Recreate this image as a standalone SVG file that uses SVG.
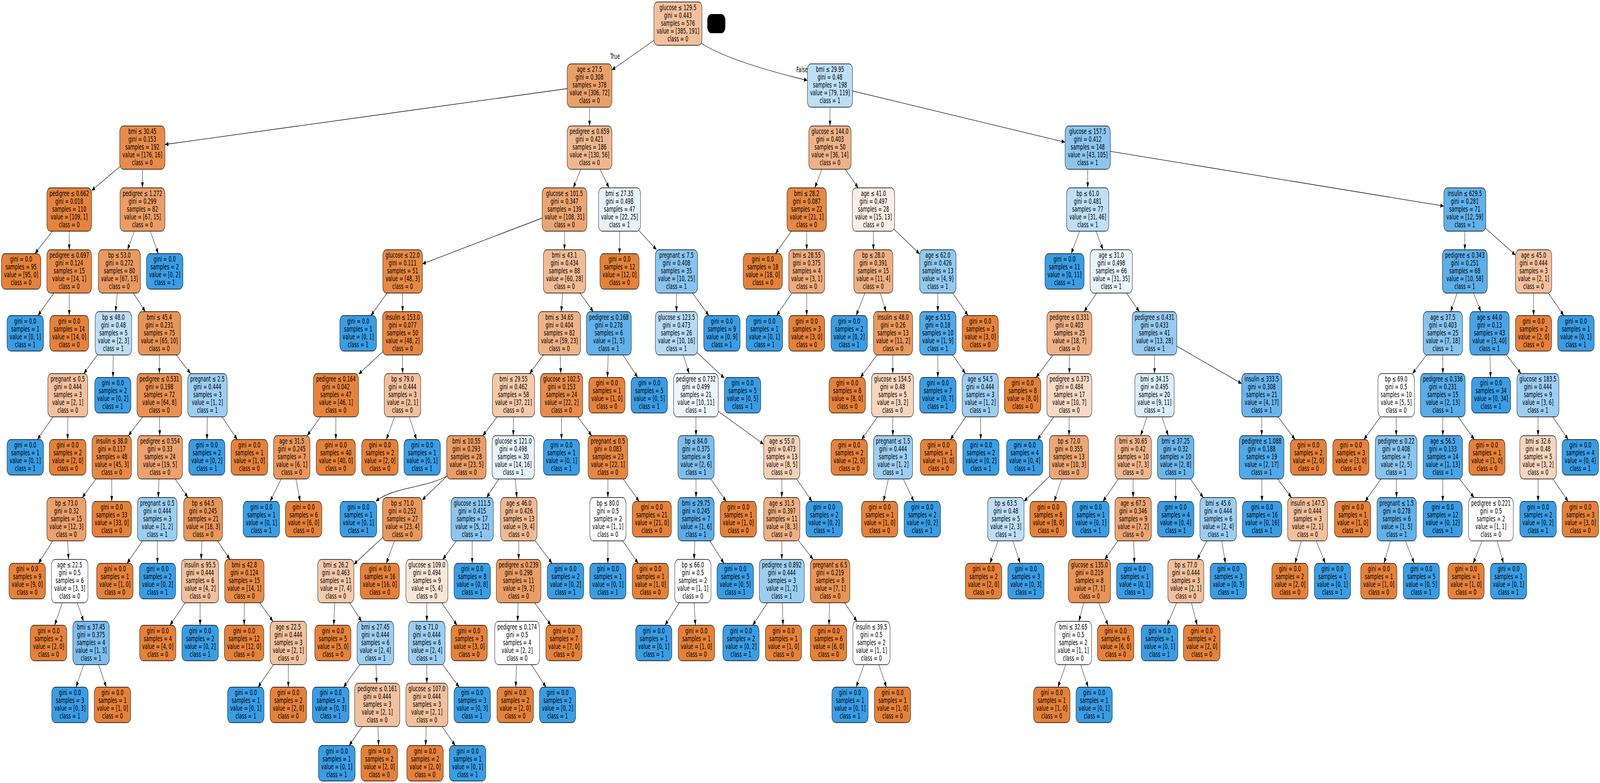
<svg xmlns="http://www.w3.org/2000/svg" width="6587" height="2005" viewBox="0 0 6587 2005" preserveAspectRatio="none">
<style>
svg:root{width:100vw;height:100vh}
.n rect{stroke:#000;stroke-width:1.3;rx:15px;ry:15px}
text{font-family:"DejaVu Sans","Liberation Sans",sans-serif;font-size:18.6px;text-anchor:middle;fill:#000}
.o{fill:#e58139}.b{fill:#399de5}
#edges line,#edges path{stroke:#000;stroke-width:1.3;fill:none;marker-end:url(#ah)}
</style>
<defs>
<marker id="ah" markerUnits="userSpaceOnUse" markerWidth="15" markerHeight="11" refX="14" refY="5.5" orient="auto" viewBox="0 0 15 11"><path d="M0,0 L14,5.5 L0,11 z" fill="#000"/></marker>
</defs>
<rect x="0" y="0" width="6587" height="2005" fill="#fff"/>
<g id="edges">
<line x1="2791" y1="60.5" x2="2519" y2="179"/>
<path d="M2885,110 Q3000,157 3324,206"/>
<line x1="2427" y1="219" x2="679" y2="370"/>
<line x1="2427" y1="219" x2="2427" y2="322.5"/>
<line x1="586" y1="378" x2="377" y2="488"/>
<line x1="586" y1="378" x2="586.5" y2="481"/>
<line x1="285" y1="536.5" x2="143.8" y2="649.5"/>
<line x1="285" y1="536.5" x2="285" y2="639.5"/>
<line x1="285" y1="695" x2="156" y2="808"/>
<line x1="285" y1="695" x2="285" y2="808"/>
<line x1="586.5" y1="536.5" x2="524.8" y2="639.5"/>
<line x1="586.5" y1="536.5" x2="651.7" y2="649.5"/>
<line x1="491.5" y1="695" x2="475.6" y2="798"/>
<line x1="491.5" y1="695" x2="598.4" y2="798"/>
<line x1="467" y1="853.5" x2="344.8" y2="956.5"/>
<line x1="467" y1="853.5" x2="465.2" y2="966.5"/>
<line x1="279" y1="1012" x2="154.1" y2="1125.5"/>
<line x1="279" y1="1012" x2="278.6" y2="1125.5"/>
<line x1="656" y1="853.5" x2="656" y2="956.5"/>
<line x1="656" y1="853.5" x2="784.7" y2="956.5"/>
<line x1="656" y1="1012" x2="528.4" y2="1115.5"/>
<line x1="656" y1="1012" x2="657.6" y2="1115.5"/>
<line x1="460" y1="1171" x2="338.8" y2="1274"/>
<line x1="460" y1="1171" x2="460" y2="1284"/>
<line x1="273.5" y1="1329.5" x2="158.4" y2="1442.5"/>
<line x1="273.5" y1="1329.5" x2="282.3" y2="1432.5"/>
<line x1="287" y1="1488" x2="225" y2="1601"/>
<line x1="287" y1="1488" x2="344.2" y2="1591"/>
<line x1="375" y1="1646.5" x2="313" y2="1759.5"/>
<line x1="375" y1="1646.5" x2="437.7" y2="1759.5"/>
<line x1="658.5" y1="1171" x2="651.4" y2="1274"/>
<line x1="658.5" y1="1171" x2="773.9" y2="1274"/>
<line x1="647.5" y1="1329.5" x2="523.1" y2="1442.5"/>
<line x1="647.5" y1="1329.5" x2="648.2" y2="1442.5"/>
<line x1="836" y1="1329.5" x2="827.9" y2="1432.5"/>
<line x1="836" y1="1329.5" x2="946.5" y2="1432.5"/>
<line x1="823.5" y1="1488" x2="699.4" y2="1601"/>
<line x1="823.5" y1="1488" x2="823.9" y2="1601"/>
<line x1="1006" y1="1488" x2="1005.3" y2="1601"/>
<line x1="1006" y1="1488" x2="1123.6" y2="1591"/>
<line x1="1187" y1="1646.5" x2="1062.2" y2="1759.5"/>
<line x1="1187" y1="1646.5" x2="1187" y2="1759.5"/>
<line x1="854" y1="1012" x2="852.2" y2="1125.5"/>
<line x1="854" y1="1012" x2="977.1" y2="1125.5"/>
<line x1="2427" y1="378" x2="2360.1" y2="481"/>
<line x1="2427" y1="378" x2="2507.3" y2="481"/>
<line x1="2324" y1="536.5" x2="1739" y2="675.6"/>
<line x1="2324" y1="536.5" x2="2324" y2="639.5"/>
<line x1="1657.5" y1="695" x2="1527" y2="808"/>
<line x1="1657.5" y1="695" x2="1657.5" y2="798"/>
<line x1="1657.5" y1="853.5" x2="1476" y2="958.3"/>
<line x1="1657.5" y1="853.5" x2="1657.2" y2="956.5"/>
<line x1="1383" y1="1012" x2="1264.5" y2="1115.5"/>
<line x1="1383" y1="1012" x2="1382.6" y2="1125.5"/>
<line x1="1201" y1="1171" x2="1111.9" y2="1284"/>
<line x1="1201" y1="1171" x2="1235.9" y2="1284"/>
<line x1="1657" y1="1012" x2="1590.6" y2="1125.5"/>
<line x1="1657" y1="1012" x2="1714.8" y2="1125.5"/>
<line x1="2324" y1="695" x2="2310.4" y2="798"/>
<line x1="2324" y1="695" x2="2442.6" y2="798"/>
<line x1="2303" y1="853.5" x2="2180.2" y2="956.5"/>
<line x1="2303" y1="853.5" x2="2308.8" y2="956.5"/>
<line x1="2114" y1="1012" x2="1987.7" y2="1115.5"/>
<line x1="2114" y1="1012" x2="2113.3" y2="1115.5"/>
<path d="M1860,1212 C1760,1252 1620,1245 1547,1284"/>
<line x1="1920" y1="1171" x2="1738" y2="1280.5"/>
<line x1="1656.5" y1="1329.5" x2="1457" y2="1444.9"/>
<line x1="1656.5" y1="1329.5" x2="1590.2" y2="1442.5"/>
<line x1="1382.5" y1="1488" x2="1373.9" y2="1601"/>
<line x1="1382.5" y1="1488" x2="1488.4" y2="1591"/>
<line x1="1545.5" y1="1646.5" x2="1414.3" y2="1759.5"/>
<line x1="1545.5" y1="1646.5" x2="1550.4" y2="1749.5"/>
<line x1="1553" y1="1805" x2="1437.2" y2="1909"/>
<line x1="1553" y1="1805" x2="1558.9" y2="1909"/>
<line x1="2113" y1="1171" x2="2003.2" y2="1274"/>
<line x1="2113" y1="1171" x2="2127.9" y2="1274"/>
<line x1="1944" y1="1329.5" x2="1822.8" y2="1432.5"/>
<line x1="1944" y1="1329.5" x2="1944" y2="1442.5"/>
<line x1="1757.5" y1="1488" x2="1757.2" y2="1591"/>
<line x1="1757.5" y1="1488" x2="1881.6" y2="1601"/>
<line x1="1757" y1="1646.5" x2="1757.3" y2="1749.5"/>
<line x1="1757" y1="1646.5" x2="1890.3" y2="1759.5"/>
<line x1="1757.5" y1="1805" x2="1752.3" y2="1909"/>
<line x1="1757.5" y1="1805" x2="1874.1" y2="1909"/>
<line x1="2136" y1="1329.5" x2="2135.4" y2="1432.5"/>
<line x1="2136" y1="1329.5" x2="2272.9" y2="1442.5"/>
<line x1="2135" y1="1488" x2="2131.1" y2="1591"/>
<line x1="2135" y1="1488" x2="2268" y2="1601"/>
<line x1="2129" y1="1646.5" x2="2123.3" y2="1759.5"/>
<line x1="2129" y1="1646.5" x2="2247.7" y2="1759.5"/>
<line x1="2312" y1="1012" x2="2311.6" y2="1125.5"/>
<line x1="2312" y1="1012" x2="2436" y2="1115.5"/>
<line x1="2502.5" y1="1171" x2="2502.5" y2="1274"/>
<line x1="2502.5" y1="1171" x2="2631.5" y2="1284"/>
<line x1="2502.5" y1="1329.5" x2="2502.5" y2="1442.5"/>
<line x1="2502.5" y1="1329.5" x2="2627.3" y2="1442.5"/>
<line x1="2506.5" y1="853.5" x2="2500.8" y2="966.5"/>
<line x1="2506.5" y1="853.5" x2="2625.2" y2="966.5"/>
<line x1="2550.5" y1="536.5" x2="2550.5" y2="649.5"/>
<line x1="2550.5" y1="536.5" x2="2702.9" y2="639.5"/>
<line x1="2785" y1="695" x2="2785" y2="798"/>
<line x1="2785" y1="695" x2="2918.3" y2="808"/>
<line x1="2785" y1="853.5" x2="2837" y2="956.5"/>
<line x1="2785" y1="853.5" x2="2982" y2="968.3"/>
<line x1="2865" y1="1012" x2="2865.3" y2="1115.5"/>
<line x1="2865" y1="1012" x2="3144" y2="1137.5"/>
<line x1="2865.5" y1="1171" x2="2865.5" y2="1274"/>
<line x1="2865.5" y1="1171" x2="2989.6" y2="1284"/>
<line x1="2865.5" y1="1329.5" x2="2857.1" y2="1432.5"/>
<line x1="2865.5" y1="1329.5" x2="2980.6" y2="1442.5"/>
<line x1="2852.5" y1="1488" x2="2737.7" y2="1601"/>
<line x1="2852.5" y1="1488" x2="2862.8" y2="1601"/>
<line x1="3218.5" y1="1171" x2="3218.5" y2="1274"/>
<line x1="3218.5" y1="1171" x2="3342.9" y2="1284"/>
<line x1="3218.5" y1="1329.5" x2="3218.5" y2="1432.5"/>
<line x1="3218.5" y1="1329.5" x2="3347.8" y2="1432.5"/>
<line x1="3218.5" y1="1488" x2="3098.7" y2="1601"/>
<line x1="3218.5" y1="1488" x2="3223.5" y2="1601"/>
<line x1="3417.5" y1="1488" x2="3412.9" y2="1601"/>
<line x1="3417.5" y1="1488" x2="3528" y2="1591"/>
<line x1="3587.5" y1="1646.5" x2="3524.8" y2="1759.5"/>
<line x1="3587.5" y1="1646.5" x2="3649.5" y2="1759.5"/>
<line x1="3417" y1="219" x2="3417" y2="322.5"/>
<line x1="3417" y1="219" x2="4385" y2="364.1"/>
<line x1="3417" y1="378" x2="3354.6" y2="481"/>
<line x1="3417" y1="378" x2="3533.3" y2="481"/>
<line x1="3321" y1="536.5" x2="3192.3" y2="649.5"/>
<line x1="3321" y1="536.5" x2="3321" y2="639.5"/>
<line x1="3321" y1="695" x2="3196.9" y2="808"/>
<line x1="3321" y1="695" x2="3321" y2="808"/>
<line x1="3596" y1="536.5" x2="3595.7" y2="639.5"/>
<line x1="3596" y1="536.5" x2="3786" y2="650.1"/>
<line x1="3595.5" y1="695" x2="3524.6" y2="808"/>
<line x1="3595.5" y1="695" x2="3648.1" y2="798"/>
<line x1="3676.5" y1="853.5" x2="3542.1" y2="966.5"/>
<line x1="3676.5" y1="853.5" x2="3675.2" y2="956.5"/>
<line x1="3674.5" y1="1012" x2="3547.1" y2="1125.5"/>
<line x1="3674.5" y1="1012" x2="3675.8" y2="1115.5"/>
<line x1="3676.5" y1="1171" x2="3637.3" y2="1284"/>
<line x1="3676.5" y1="1171" x2="3762.4" y2="1284"/>
<line x1="3861" y1="695" x2="3861" y2="798"/>
<line x1="3861" y1="695" x2="3985.4" y2="808"/>
<line x1="3861" y1="853.5" x2="3861" y2="966.5"/>
<line x1="3861" y1="853.5" x2="3974.4" y2="956.5"/>
<line x1="4035.5" y1="1012" x2="3912.7" y2="1125.5"/>
<line x1="4035.5" y1="1012" x2="4037.6" y2="1125.5"/>
<line x1="4478" y1="378" x2="4478" y2="481"/>
<line x1="4478" y1="378" x2="5944" y2="527.7"/>
<line x1="4478" y1="536.5" x2="4409.9" y2="649.5"/>
<line x1="4478" y1="536.5" x2="4541" y2="639.5"/>
<line x1="4575" y1="695" x2="4462.9" y2="798"/>
<line x1="4575" y1="695" x2="4690.7" y2="798"/>
<line x1="4402.5" y1="853.5" x2="4265.3" y2="966.5"/>
<line x1="4402.5" y1="853.5" x2="4402.5" y2="956.5"/>
<line x1="4402.5" y1="1012" x2="4271.2" y2="1125.5"/>
<line x1="4402.5" y1="1012" x2="4401.2" y2="1115.5"/>
<line x1="4400.5" y1="1171" x2="4216" y2="1283.7"/>
<line x1="4400.5" y1="1171" x2="4339.9" y2="1284"/>
<line x1="4141" y1="1329.5" x2="4075.4" y2="1442.5"/>
<line x1="4141" y1="1329.5" x2="4199.8" y2="1442.5"/>
<line x1="4753" y1="853.5" x2="4753" y2="956.5"/>
<line x1="4753" y1="853.5" x2="5112" y2="982.4"/>
<line x1="4753" y1="1012" x2="4695.7" y2="1115.5"/>
<line x1="4753" y1="1012" x2="4809.6" y2="1115.5"/>
<line x1="4665" y1="1171" x2="4540.6" y2="1284"/>
<line x1="4665" y1="1171" x2="4665" y2="1274"/>
<line x1="4665" y1="1329.5" x2="4548" y2="1432.5"/>
<line x1="4665" y1="1329.5" x2="4670" y2="1442.5"/>
<line x1="4485" y1="1488" x2="4441.8" y2="1591"/>
<line x1="4485" y1="1488" x2="4562" y2="1601"/>
<line x1="4418.5" y1="1646.5" x2="4355.4" y2="1759.5"/>
<line x1="4418.5" y1="1646.5" x2="4479.8" y2="1759.5"/>
<line x1="4840" y1="1171" x2="4840" y2="1284"/>
<line x1="4840" y1="1171" x2="4953.7" y2="1274"/>
<line x1="5015" y1="1329.5" x2="4928.6" y2="1432.5"/>
<line x1="5015" y1="1329.5" x2="5044.9" y2="1442.5"/>
<line x1="4882" y1="1488" x2="4804.6" y2="1601"/>
<line x1="4882" y1="1488" x2="4928.7" y2="1601"/>
<line x1="5194.5" y1="1012" x2="5194.2" y2="1115.5"/>
<line x1="5194.5" y1="1012" x2="5331.6" y2="1125.5"/>
<line x1="5194" y1="1171" x2="5195.5" y2="1284"/>
<line x1="5194" y1="1171" x2="5316.8" y2="1274"/>
<line x1="5383" y1="1329.5" x2="5331.3" y2="1442.5"/>
<line x1="5383" y1="1329.5" x2="5456.1" y2="1442.5"/>
<line x1="6030.5" y1="536.5" x2="6030.5" y2="639.5"/>
<line x1="6030.5" y1="536.5" x2="6239" y2="653.3"/>
<line x1="6030.5" y1="695" x2="5971.7" y2="798"/>
<line x1="6030.5" y1="695" x2="6096.5" y2="798"/>
<line x1="5940" y1="853.5" x2="5815.2" y2="956.5"/>
<line x1="5940" y1="853.5" x2="5940" y2="956.5"/>
<line x1="5748" y1="1012" x2="5614.9" y2="1125.5"/>
<line x1="5748" y1="1012" x2="5748" y2="1115.5"/>
<line x1="5748" y1="1171" x2="5620" y2="1284"/>
<line x1="5748" y1="1171" x2="5749.3" y2="1274"/>
<line x1="5750" y1="1329.5" x2="5697.6" y2="1442.5"/>
<line x1="5750" y1="1329.5" x2="5822.4" y2="1442.5"/>
<line x1="5940" y1="1012" x2="5940" y2="1115.5"/>
<line x1="5940" y1="1012" x2="6069.6" y2="1125.5"/>
<line x1="5940" y1="1171" x2="5939.6" y2="1284"/>
<line x1="5940" y1="1171" x2="6068.7" y2="1274"/>
<line x1="6138" y1="1329.5" x2="6064.9" y2="1442.5"/>
<line x1="6138" y1="1329.5" x2="6189.7" y2="1442.5"/>
<line x1="6132" y1="853.5" x2="6136.6" y2="966.5"/>
<line x1="6132" y1="853.5" x2="6261.7" y2="956.5"/>
<line x1="6331.5" y1="1012" x2="6331.8" y2="1115.5"/>
<line x1="6331.5" y1="1012" x2="6456.1" y2="1125.5"/>
<line x1="6332" y1="1171" x2="6332" y2="1284"/>
<line x1="6332" y1="1171" x2="6456.1" y2="1284"/>
<line x1="6313.5" y1="695" x2="6313.5" y2="808"/>
<line x1="6313.5" y1="695" x2="6437.9" y2="808"/>
<text x="2532.5" y="151.5">True</text>
<text x="3302" y="185">False</text>
</g>
<g id="blackbox"><rect x="2912" y="36" width="74" height="49" rx="16" fill="#000"/></g>
<g id="n0" class="n"><rect x="2692" y="5" width="198" height="111" fill="#f2c09b"/><text y="26"><tspan x="2791">glucose ≤ 129.5</tspan><tspan x="2791" dy="20">gini = 0.443</tspan><tspan x="2791" dy="20">samples = 576</tspan><tspan x="2791" dy="20">value = [385, 191]</tspan><tspan x="2791" dy="20">class = 0</tspan></text></g>
<g id="n1" class="n"><rect x="2335" y="163.5" width="184" height="111" fill="#eb9f68"/><text y="184.5"><tspan x="2427">age ≤ 27.5</tspan><tspan x="2427" dy="20">gini = 0.308</tspan><tspan x="2427" dy="20">samples = 378</tspan><tspan x="2427" dy="20">value = [306, 72]</tspan><tspan x="2427" dy="20">class = 0</tspan></text></g>
<g id="n122" class="n"><rect x="3324" y="163.5" width="186" height="111" fill="#bcdef6"/><text y="184.5"><tspan x="3417">bmi ≤ 29.95</tspan><tspan x="3417" dy="20">gini = 0.48</tspan><tspan x="3417" dy="20">samples = 198</tspan><tspan x="3417" dy="20">value = [79, 119]</tspan><tspan x="3417" dy="20">class = 1</tspan></text></g>
<g id="n2" class="n"><rect x="493" y="322.5" width="186" height="111" fill="#e78c4b"/><text y="343.5"><tspan x="586">bmi ≤ 30.45</tspan><tspan x="586" dy="20">gini = 0.153</tspan><tspan x="586" dy="20">samples = 192</tspan><tspan x="586" dy="20">value = [176, 16]</tspan><tspan x="586" dy="20">class = 0</tspan></text></g>
<g id="n43" class="n"><rect x="2335" y="322.5" width="184" height="111" fill="#f0b78e"/><text y="343.5"><tspan x="2427">pedigree ≤ 0.659</tspan><tspan x="2427" dy="20">gini = 0.421</tspan><tspan x="2427" dy="20">samples = 186</tspan><tspan x="2427" dy="20">value = [130, 56]</tspan><tspan x="2427" dy="20">class = 0</tspan></text></g>
<g id="n123" class="n"><rect x="3330" y="322.5" width="174" height="111" fill="#efb286"/><text y="343.5"><tspan x="3417">glucose ≤ 144.0</tspan><tspan x="3417" dy="20">gini = 0.403</tspan><tspan x="3417" dy="20">samples = 50</tspan><tspan x="3417" dy="20">value = [36, 14]</tspan><tspan x="3417" dy="20">class = 0</tspan></text></g>
<g id="n146" class="n"><rect x="4385" y="322.5" width="186" height="111" fill="#8ac5f0"/><text y="343.5"><tspan x="4478">glucose ≤ 157.5</tspan><tspan x="4478" dy="20">gini = 0.412</tspan><tspan x="4478" dy="20">samples = 148</tspan><tspan x="4478" dy="20">value = [43, 105]</tspan><tspan x="4478" dy="20">class = 1</tspan></text></g>
<g id="n3" class="n"><rect x="193" y="481" width="184" height="111" fill="#e5823b"/><text y="502"><tspan x="285">pedigree ≤ 0.662</tspan><tspan x="285" dy="20">gini = 0.018</tspan><tspan x="285" dy="20">samples = 110</tspan><tspan x="285" dy="20">value = [109, 1]</tspan><tspan x="285" dy="20">class = 0</tspan></text></g>
<g id="n8" class="n"><rect x="494" y="481" width="185" height="111" fill="#eb9d65"/><text y="502"><tspan x="586.5">pedigree ≤ 1.272</tspan><tspan x="586.5" dy="20">gini = 0.299</tspan><tspan x="586.5" dy="20">samples = 82</tspan><tspan x="586.5" dy="20">value = [67, 15]</tspan><tspan x="586.5" dy="20">class = 0</tspan></text></g>
<g id="n44" class="n"><rect x="2232" y="481" width="184" height="111" fill="#eca572"/><text y="502"><tspan x="2324">glucose ≤ 101.5</tspan><tspan x="2324" dy="20">gini = 0.347</tspan><tspan x="2324" dy="20">samples = 139</tspan><tspan x="2324" dy="20">value = [108, 31]</tspan><tspan x="2324" dy="20">class = 0</tspan></text></g>
<g id="n97" class="n"><rect x="2464" y="481" width="173" height="111" fill="#e7f3fc"/><text y="502"><tspan x="2550.5">bmi ≤ 27.35</tspan><tspan x="2550.5" dy="20">gini = 0.498</tspan><tspan x="2550.5" dy="20">samples = 47</tspan><tspan x="2550.5" dy="20">value = [22, 25]</tspan><tspan x="2550.5" dy="20">class = 1</tspan></text></g>
<g id="n124" class="n"><rect x="3240" y="481" width="162" height="111" fill="#e68742"/><text y="502"><tspan x="3321">bmi ≤ 28.2</tspan><tspan x="3321" dy="20">gini = 0.087</tspan><tspan x="3321" dy="20">samples = 22</tspan><tspan x="3321" dy="20">value = [21, 1]</tspan><tspan x="3321" dy="20">class = 0</tspan></text></g>
<g id="n129" class="n"><rect x="3509" y="481" width="174" height="111" fill="#fceee5"/><text y="502"><tspan x="3596">age ≤ 41.0</tspan><tspan x="3596" dy="20">gini = 0.497</tspan><tspan x="3596" dy="20">samples = 28</tspan><tspan x="3596" dy="20">value = [15, 13]</tspan><tspan x="3596" dy="20">class = 0</tspan></text></g>
<g id="n147" class="n"><rect x="4391" y="481" width="174" height="111" fill="#bedff7"/><text y="502"><tspan x="4478">bp ≤ 61.0</tspan><tspan x="4478" dy="20">gini = 0.481</tspan><tspan x="4478" dy="20">samples = 77</tspan><tspan x="4478" dy="20">value = [31, 46]</tspan><tspan x="4478" dy="20">class = 1</tspan></text></g>
<g id="n184" class="n"><rect x="5944" y="481" width="173" height="111" fill="#61b1ea"/><text y="502"><tspan x="6030.5">insulin ≤ 629.5</tspan><tspan x="6030.5" dy="20">gini = 0.281</tspan><tspan x="6030.5" dy="20">samples = 71</tspan><tspan x="6030.5" dy="20">value = [12, 59]</tspan><tspan x="6030.5" dy="20">class = 1</tspan></text></g>
<g id="n4" class="n"><rect x="6" y="649.5" width="162" height="91" class="o"/><text y="670.5"><tspan x="87">gini = 0.0</tspan><tspan x="87" dy="20">samples = 95</tspan><tspan x="87" dy="20">value = [95, 0]</tspan><tspan x="87" dy="20">class = 0</tspan></text></g>
<g id="n5" class="n"><rect x="193" y="639.5" width="184" height="111" fill="#e78a47"/><text y="660.5"><tspan x="285">pedigree ≤ 0.697</tspan><tspan x="285" dy="20">gini = 0.124</tspan><tspan x="285" dy="20">samples = 15</tspan><tspan x="285" dy="20">value = [14, 1]</tspan><tspan x="285" dy="20">class = 0</tspan></text></g>
<g id="n9" class="n"><rect x="405" y="639.5" width="173" height="111" fill="#ea995f"/><text y="660.5"><tspan x="491.5">bp ≤ 53.0</tspan><tspan x="491.5" dy="20">gini = 0.272</tspan><tspan x="491.5" dy="20">samples = 80</tspan><tspan x="491.5" dy="20">value = [67, 13]</tspan><tspan x="491.5" dy="20">class = 0</tspan></text></g>
<g id="n42" class="n"><rect x="603" y="649.5" width="150" height="91" class="b"/><text y="670.5"><tspan x="678">gini = 0.0</tspan><tspan x="678" dy="20">samples = 2</tspan><tspan x="678" dy="20">value = [0, 2]</tspan><tspan x="678" dy="20">class = 1</tspan></text></g>
<g id="n45" class="n"><rect x="1576" y="639.5" width="163" height="111" fill="#e78945"/><text y="660.5"><tspan x="1657.5">glucose ≤ 22.0</tspan><tspan x="1657.5" dy="20">gini = 0.111</tspan><tspan x="1657.5" dy="20">samples = 51</tspan><tspan x="1657.5" dy="20">value = [48, 3]</tspan><tspan x="1657.5" dy="20">class = 0</tspan></text></g>
<g id="n56" class="n"><rect x="2237" y="639.5" width="174" height="111" fill="#f1bc95"/><text y="660.5"><tspan x="2324">bmi ≤ 43.1</tspan><tspan x="2324" dy="20">gini = 0.434</tspan><tspan x="2324" dy="20">samples = 88</tspan><tspan x="2324" dy="20">value = [60, 28]</tspan><tspan x="2324" dy="20">class = 0</tspan></text></g>
<g id="n98" class="n"><rect x="2470" y="649.5" width="161" height="91" class="o"/><text y="670.5"><tspan x="2550.5">gini = 0.0</tspan><tspan x="2550.5" dy="20">samples = 12</tspan><tspan x="2550.5" dy="20">value = [12, 0]</tspan><tspan x="2550.5" dy="20">class = 0</tspan></text></g>
<g id="n99" class="n"><rect x="2698" y="639.5" width="174" height="111" fill="#88c4ef"/><text y="660.5"><tspan x="2785">pregnant ≤ 7.5</tspan><tspan x="2785" dy="20">gini = 0.408</tspan><tspan x="2785" dy="20">samples = 35</tspan><tspan x="2785" dy="20">value = [10, 25]</tspan><tspan x="2785" dy="20">class = 1</tspan></text></g>
<g id="n125" class="n"><rect x="3060" y="649.5" width="161" height="91" class="o"/><text y="670.5"><tspan x="3140.5">gini = 0.0</tspan><tspan x="3140.5" dy="20">samples = 18</tspan><tspan x="3140.5" dy="20">value = [18, 0]</tspan><tspan x="3140.5" dy="20">class = 0</tspan></text></g>
<g id="n126" class="n"><rect x="3247" y="639.5" width="148" height="111" fill="#eeab7b"/><text y="660.5"><tspan x="3321">bmi ≤ 28.55</tspan><tspan x="3321" dy="20">gini = 0.375</tspan><tspan x="3321" dy="20">samples = 4</tspan><tspan x="3321" dy="20">value = [3, 1]</tspan><tspan x="3321" dy="20">class = 0</tspan></text></g>
<g id="n130" class="n"><rect x="3515" y="639.5" width="161" height="111" fill="#eeaf81"/><text y="660.5"><tspan x="3595.5">bp ≤ 28.0</tspan><tspan x="3595.5" dy="20">gini = 0.391</tspan><tspan x="3595.5" dy="20">samples = 15</tspan><tspan x="3595.5" dy="20">value = [11, 4]</tspan><tspan x="3595.5" dy="20">class = 0</tspan></text></g>
<g id="n139" class="n"><rect x="3786" y="639.5" width="150" height="111" fill="#91c9f1"/><text y="660.5"><tspan x="3861">age ≤ 62.0</tspan><tspan x="3861" dy="20">gini = 0.426</tspan><tspan x="3861" dy="20">samples = 13</tspan><tspan x="3861" dy="20">value = [4, 9]</tspan><tspan x="3861" dy="20">class = 1</tspan></text></g>
<g id="n148" class="n"><rect x="4302" y="649.5" width="161" height="91" class="b"/><text y="670.5"><tspan x="4382.5">gini = 0.0</tspan><tspan x="4382.5" dy="20">samples = 11</tspan><tspan x="4382.5" dy="20">value = [0, 11]</tspan><tspan x="4382.5" dy="20">class = 1</tspan></text></g>
<g id="n149" class="n"><rect x="4488" y="639.5" width="174" height="111" fill="#e8f4fc"/><text y="660.5"><tspan x="4575">age ≤ 31.0</tspan><tspan x="4575" dy="20">gini = 0.498</tspan><tspan x="4575" dy="20">samples = 66</tspan><tspan x="4575" dy="20">value = [31, 35]</tspan><tspan x="4575" dy="20">class = 1</tspan></text></g>
<g id="n185" class="n"><rect x="5938" y="639.5" width="185" height="111" fill="#5baee9"/><text y="660.5"><tspan x="6030.5">pedigree ≤ 0.343</tspan><tspan x="6030.5" dy="20">gini = 0.251</tspan><tspan x="6030.5" dy="20">samples = 68</tspan><tspan x="6030.5" dy="20">value = [10, 58]</tspan><tspan x="6030.5" dy="20">class = 1</tspan></text></g>
<g id="n208" class="n"><rect x="6239" y="639.5" width="149" height="111" fill="#f2c09c"/><text y="660.5"><tspan x="6313.5">age ≤ 45.0</tspan><tspan x="6313.5" dy="20">gini = 0.444</tspan><tspan x="6313.5" dy="20">samples = 3</tspan><tspan x="6313.5" dy="20">value = [2, 1]</tspan><tspan x="6313.5" dy="20">class = 0</tspan></text></g>
<g id="n6" class="n"><rect x="29" y="808" width="150" height="91" class="b"/><text y="829"><tspan x="104">gini = 0.0</tspan><tspan x="104" dy="20">samples = 1</tspan><tspan x="104" dy="20">value = [0, 1]</tspan><tspan x="104" dy="20">class = 1</tspan></text></g>
<g id="n7" class="n"><rect x="205" y="808" width="160" height="91" class="o"/><text y="829"><tspan x="285">gini = 0.0</tspan><tspan x="285" dy="20">samples = 14</tspan><tspan x="285" dy="20">value = [14, 0]</tspan><tspan x="285" dy="20">class = 0</tspan></text></g>
<g id="n10" class="n"><rect x="392" y="798" width="150" height="111" fill="#bddef6"/><text y="819"><tspan x="467">bp ≤ 48.0</tspan><tspan x="467" dy="20">gini = 0.48</tspan><tspan x="467" dy="20">samples = 5</tspan><tspan x="467" dy="20">value = [2, 3]</tspan><tspan x="467" dy="20">class = 1</tspan></text></g>
<g id="n15" class="n"><rect x="569" y="798" width="174" height="111" fill="#e99457"/><text y="819"><tspan x="656">bmi ≤ 45.4</tspan><tspan x="656" dy="20">gini = 0.231</tspan><tspan x="656" dy="20">samples = 75</tspan><tspan x="656" dy="20">value = [65, 10]</tspan><tspan x="656" dy="20">class = 0</tspan></text></g>
<g id="n46" class="n"><rect x="1399" y="808" width="151" height="91" class="b"/><text y="829"><tspan x="1474.5">gini = 0.0</tspan><tspan x="1474.5" dy="20">samples = 1</tspan><tspan x="1474.5" dy="20">value = [0, 1]</tspan><tspan x="1474.5" dy="20">class = 1</tspan></text></g>
<g id="n47" class="n"><rect x="1575" y="798" width="165" height="111" fill="#e68641"/><text y="819"><tspan x="1657.5">insulin ≤ 153.0</tspan><tspan x="1657.5" dy="20">gini = 0.077</tspan><tspan x="1657.5" dy="20">samples = 50</tspan><tspan x="1657.5" dy="20">value = [48, 2]</tspan><tspan x="1657.5" dy="20">class = 0</tspan></text></g>
<g id="n57" class="n"><rect x="2216" y="798" width="174" height="111" fill="#efb286"/><text y="819"><tspan x="2303">bmi ≤ 34.65</tspan><tspan x="2303" dy="20">gini = 0.404</tspan><tspan x="2303" dy="20">samples = 82</tspan><tspan x="2303" dy="20">value = [59, 23]</tspan><tspan x="2303" dy="20">class = 0</tspan></text></g>
<g id="n94" class="n"><rect x="2414" y="798" width="185" height="111" fill="#61b1ea"/><text y="819"><tspan x="2506.5">pedigree ≤ 0.168</tspan><tspan x="2506.5" dy="20">gini = 0.278</tspan><tspan x="2506.5" dy="20">samples = 6</tspan><tspan x="2506.5" dy="20">value = [1, 5]</tspan><tspan x="2506.5" dy="20">class = 1</tspan></text></g>
<g id="n100" class="n"><rect x="2698" y="798" width="174" height="111" fill="#b5daf5"/><text y="819"><tspan x="2785">glucose ≤ 123.5</tspan><tspan x="2785" dy="20">gini = 0.473</tspan><tspan x="2785" dy="20">samples = 26</tspan><tspan x="2785" dy="20">value = [10, 16]</tspan><tspan x="2785" dy="20">class = 1</tspan></text></g>
<g id="n121" class="n"><rect x="2897" y="808" width="150" height="91" class="b"/><text y="829"><tspan x="2972">gini = 0.0</tspan><tspan x="2972" dy="20">samples = 9</tspan><tspan x="2972" dy="20">value = [0, 9]</tspan><tspan x="2972" dy="20">class = 1</tspan></text></g>
<g id="n127" class="n"><rect x="3072" y="808" width="150" height="91" class="b"/><text y="829"><tspan x="3147">gini = 0.0</tspan><tspan x="3147" dy="20">samples = 1</tspan><tspan x="3147" dy="20">value = [0, 1]</tspan><tspan x="3147" dy="20">class = 1</tspan></text></g>
<g id="n128" class="n"><rect x="3247" y="808" width="148" height="91" class="o"/><text y="829"><tspan x="3321">gini = 0.0</tspan><tspan x="3321" dy="20">samples = 3</tspan><tspan x="3321" dy="20">value = [3, 0]</tspan><tspan x="3321" dy="20">class = 0</tspan></text></g>
<g id="n131" class="n"><rect x="3421" y="808" width="150" height="91" class="b"/><text y="829"><tspan x="3496">gini = 0.0</tspan><tspan x="3496" dy="20">samples = 2</tspan><tspan x="3496" dy="20">value = [0, 2]</tspan><tspan x="3496" dy="20">class = 1</tspan></text></g>
<g id="n132" class="n"><rect x="3596" y="798" width="161" height="111" fill="#ea985d"/><text y="819"><tspan x="3676.5">insulin ≤ 48.0</tspan><tspan x="3676.5" dy="20">gini = 0.26</tspan><tspan x="3676.5" dy="20">samples = 13</tspan><tspan x="3676.5" dy="20">value = [11, 2]</tspan><tspan x="3676.5" dy="20">class = 0</tspan></text></g>
<g id="n140" class="n"><rect x="3786" y="798" width="150" height="111" fill="#4fa8e8"/><text y="819"><tspan x="3861">age ≤ 53.5</tspan><tspan x="3861" dy="20">gini = 0.18</tspan><tspan x="3861" dy="20">samples = 10</tspan><tspan x="3861" dy="20">value = [1, 9]</tspan><tspan x="3861" dy="20">class = 1</tspan></text></g>
<g id="n145" class="n"><rect x="3961" y="808" width="149" height="91" class="o"/><text y="829"><tspan x="4035.5">gini = 0.0</tspan><tspan x="4035.5" dy="20">samples = 3</tspan><tspan x="4035.5" dy="20">value = [3, 0]</tspan><tspan x="4035.5" dy="20">class = 0</tspan></text></g>
<g id="n150" class="n"><rect x="4310" y="798" width="185" height="111" fill="#efb286"/><text y="819"><tspan x="4402.5">pedigree ≤ 0.331</tspan><tspan x="4402.5" dy="20">gini = 0.403</tspan><tspan x="4402.5" dy="20">samples = 25</tspan><tspan x="4402.5" dy="20">value = [18, 7]</tspan><tspan x="4402.5" dy="20">class = 0</tspan></text></g>
<g id="n159" class="n"><rect x="4661" y="798" width="184" height="111" fill="#95caf1"/><text y="819"><tspan x="4753">pedigree ≤ 0.431</tspan><tspan x="4753" dy="20">gini = 0.433</tspan><tspan x="4753" dy="20">samples = 41</tspan><tspan x="4753" dy="20">value = [13, 28]</tspan><tspan x="4753" dy="20">class = 1</tspan></text></g>
<g id="n186" class="n"><rect x="5859" y="798" width="162" height="111" fill="#86c3ef"/><text y="819"><tspan x="5940">age ≤ 37.5</tspan><tspan x="5940" dy="20">gini = 0.403</tspan><tspan x="5940" dy="20">samples = 25</tspan><tspan x="5940" dy="20">value = [7, 18]</tspan><tspan x="5940" dy="20">class = 1</tspan></text></g>
<g id="n201" class="n"><rect x="6051" y="798" width="162" height="111" fill="#48a4e7"/><text y="819"><tspan x="6132">age ≤ 44.0</tspan><tspan x="6132" dy="20">gini = 0.13</tspan><tspan x="6132" dy="20">samples = 43</tspan><tspan x="6132" dy="20">value = [3, 40]</tspan><tspan x="6132" dy="20">class = 1</tspan></text></g>
<g id="n209" class="n"><rect x="6239" y="808" width="149" height="91" class="o"/><text y="829"><tspan x="6313.5">gini = 0.0</tspan><tspan x="6313.5" dy="20">samples = 2</tspan><tspan x="6313.5" dy="20">value = [2, 0]</tspan><tspan x="6313.5" dy="20">class = 0</tspan></text></g>
<g id="n210" class="n"><rect x="6413" y="808" width="150" height="91" class="b"/><text y="829"><tspan x="6488">gini = 0.0</tspan><tspan x="6488" dy="20">samples = 1</tspan><tspan x="6488" dy="20">value = [0, 1]</tspan><tspan x="6488" dy="20">class = 1</tspan></text></g>
<g id="n11" class="n"><rect x="197" y="956.5" width="164" height="111" fill="#f2c09c"/><text y="977.5"><tspan x="279">pregnant ≤ 0.5</tspan><tspan x="279" dy="20">gini = 0.444</tspan><tspan x="279" dy="20">samples = 3</tspan><tspan x="279" dy="20">value = [2, 1]</tspan><tspan x="279" dy="20">class = 0</tspan></text></g>
<g id="n14" class="n"><rect x="390" y="966.5" width="149" height="91" class="b"/><text y="987.5"><tspan x="464.5">gini = 0.0</tspan><tspan x="464.5" dy="20">samples = 2</tspan><tspan x="464.5" dy="20">value = [0, 2]</tspan><tspan x="464.5" dy="20">class = 1</tspan></text></g>
<g id="n16" class="n"><rect x="564" y="956.5" width="184" height="111" fill="#e89152"/><text y="977.5"><tspan x="656">pedigree ≤ 0.531</tspan><tspan x="656" dy="20">gini = 0.198</tspan><tspan x="656" dy="20">samples = 72</tspan><tspan x="656" dy="20">value = [64, 8]</tspan><tspan x="656" dy="20">class = 0</tspan></text></g>
<g id="n39" class="n"><rect x="773" y="956.5" width="162" height="111" fill="#9ccef2"/><text y="977.5"><tspan x="854">pregnant ≤ 2.5</tspan><tspan x="854" dy="20">gini = 0.444</tspan><tspan x="854" dy="20">samples = 3</tspan><tspan x="854" dy="20">value = [1, 2]</tspan><tspan x="854" dy="20">class = 1</tspan></text></g>
<g id="n48" class="n"><rect x="1290" y="956.5" width="186" height="111" fill="#e6843d"/><text y="977.5"><tspan x="1383">pedigree ≤ 0.164</tspan><tspan x="1383" dy="20">gini = 0.042</tspan><tspan x="1383" dy="20">samples = 47</tspan><tspan x="1383" dy="20">value = [46, 1]</tspan><tspan x="1383" dy="20">class = 0</tspan></text></g>
<g id="n53" class="n"><rect x="1582" y="956.5" width="150" height="111" fill="#f2c09c"/><text y="977.5"><tspan x="1657">bp ≤ 79.0</tspan><tspan x="1657" dy="20">gini = 0.444</tspan><tspan x="1657" dy="20">samples = 3</tspan><tspan x="1657" dy="20">value = [2, 1]</tspan><tspan x="1657" dy="20">class = 0</tspan></text></g>
<g id="n58" class="n"><rect x="2027" y="956.5" width="174" height="111" fill="#f4c9a9"/><text y="977.5"><tspan x="2114">bmi ≤ 29.55</tspan><tspan x="2114" dy="20">gini = 0.462</tspan><tspan x="2114" dy="20">samples = 58</tspan><tspan x="2114" dy="20">value = [37, 21]</tspan><tspan x="2114" dy="20">class = 0</tspan></text></g>
<g id="n87" class="n"><rect x="2225" y="956.5" width="174" height="111" fill="#e78c4b"/><text y="977.5"><tspan x="2312">glucose ≤ 102.5</tspan><tspan x="2312" dy="20">gini = 0.153</tspan><tspan x="2312" dy="20">samples = 24</tspan><tspan x="2312" dy="20">value = [22, 2]</tspan><tspan x="2312" dy="20">class = 0</tspan></text></g>
<g id="n95" class="n"><rect x="2424" y="966.5" width="149" height="91" class="o"/><text y="987.5"><tspan x="2498.5">gini = 0.0</tspan><tspan x="2498.5" dy="20">samples = 1</tspan><tspan x="2498.5" dy="20">value = [1, 0]</tspan><tspan x="2498.5" dy="20">class = 0</tspan></text></g>
<g id="n96" class="n"><rect x="2598" y="966.5" width="150" height="91" class="b"/><text y="987.5"><tspan x="2673">gini = 0.0</tspan><tspan x="2673" dy="20">samples = 5</tspan><tspan x="2673" dy="20">value = [0, 5]</tspan><tspan x="2673" dy="20">class = 1</tspan></text></g>
<g id="n101" class="n"><rect x="2773" y="956.5" width="184" height="111" fill="#edf6fd"/><text y="977.5"><tspan x="2865">pedigree ≤ 0.732</tspan><tspan x="2865" dy="20">gini = 0.499</tspan><tspan x="2865" dy="20">samples = 21</tspan><tspan x="2865" dy="20">value = [10, 11]</tspan><tspan x="2865" dy="20">class = 1</tspan></text></g>
<g id="n120" class="n"><rect x="2982" y="966.5" width="150" height="91" class="b"/><text y="987.5"><tspan x="3057">gini = 0.0</tspan><tspan x="3057" dy="20">samples = 5</tspan><tspan x="3057" dy="20">value = [0, 5]</tspan><tspan x="3057" dy="20">class = 1</tspan></text></g>
<g id="n133" class="n"><rect x="3413" y="966.5" width="150" height="91" class="o"/><text y="987.5"><tspan x="3488">gini = 0.0</tspan><tspan x="3488" dy="20">samples = 8</tspan><tspan x="3488" dy="20">value = [8, 0]</tspan><tspan x="3488" dy="20">class = 0</tspan></text></g>
<g id="n134" class="n"><rect x="3588" y="956.5" width="173" height="111" fill="#f6d5bd"/><text y="977.5"><tspan x="3674.5">glucose ≤ 154.5</tspan><tspan x="3674.5" dy="20">gini = 0.48</tspan><tspan x="3674.5" dy="20">samples = 5</tspan><tspan x="3674.5" dy="20">value = [3, 2]</tspan><tspan x="3674.5" dy="20">class = 0</tspan></text></g>
<g id="n141" class="n"><rect x="3786" y="966.5" width="150" height="91" class="b"/><text y="987.5"><tspan x="3861">gini = 0.0</tspan><tspan x="3861" dy="20">samples = 7</tspan><tspan x="3861" dy="20">value = [0, 7]</tspan><tspan x="3861" dy="20">class = 1</tspan></text></g>
<g id="n142" class="n"><rect x="3961" y="956.5" width="149" height="111" fill="#9ccef2"/><text y="977.5"><tspan x="4035.5">age ≤ 54.5</tspan><tspan x="4035.5" dy="20">gini = 0.444</tspan><tspan x="4035.5" dy="20">samples = 3</tspan><tspan x="4035.5" dy="20">value = [1, 2]</tspan><tspan x="4035.5" dy="20">class = 1</tspan></text></g>
<g id="n151" class="n"><rect x="4135" y="966.5" width="150" height="91" class="o"/><text y="987.5"><tspan x="4210">gini = 0.0</tspan><tspan x="4210" dy="20">samples = 8</tspan><tspan x="4210" dy="20">value = [8, 0]</tspan><tspan x="4210" dy="20">class = 0</tspan></text></g>
<g id="n152" class="n"><rect x="4310" y="956.5" width="185" height="111" fill="#f7d9c4"/><text y="977.5"><tspan x="4402.5">pedigree ≤ 0.373</tspan><tspan x="4402.5" dy="20">gini = 0.484</tspan><tspan x="4402.5" dy="20">samples = 17</tspan><tspan x="4402.5" dy="20">value = [10, 7]</tspan><tspan x="4402.5" dy="20">class = 0</tspan></text></g>
<g id="n160" class="n"><rect x="4672" y="956.5" width="162" height="111" fill="#dbedfa"/><text y="977.5"><tspan x="4753">bmi ≤ 34.15</tspan><tspan x="4753" dy="20">gini = 0.495</tspan><tspan x="4753" dy="20">samples = 20</tspan><tspan x="4753" dy="20">value = [9, 11]</tspan><tspan x="4753" dy="20">class = 1</tspan></text></g>
<g id="n177" class="n"><rect x="5112" y="956.5" width="165" height="111" fill="#68b4eb"/><text y="977.5"><tspan x="5194.5">insulin ≤ 333.5</tspan><tspan x="5194.5" dy="20">gini = 0.308</tspan><tspan x="5194.5" dy="20">samples = 21</tspan><tspan x="5194.5" dy="20">value = [4, 17]</tspan><tspan x="5194.5" dy="20">class = 1</tspan></text></g>
<g id="n187" class="n"><rect x="5673" y="956.5" width="150" height="111" fill="#ffffff"/><text y="977.5"><tspan x="5748">bp ≤ 69.0</tspan><tspan x="5748" dy="20">gini = 0.5</tspan><tspan x="5748" dy="20">samples = 10</tspan><tspan x="5748" dy="20">value = [5, 5]</tspan><tspan x="5748" dy="20">class = 0</tspan></text></g>
<g id="n194" class="n"><rect x="5848" y="956.5" width="184" height="111" fill="#57ace9"/><text y="977.5"><tspan x="5940">pedigree ≤ 0.336</tspan><tspan x="5940" dy="20">gini = 0.231</tspan><tspan x="5940" dy="20">samples = 15</tspan><tspan x="5940" dy="20">value = [2, 13]</tspan><tspan x="5940" dy="20">class = 1</tspan></text></g>
<g id="n202" class="n"><rect x="6058" y="966.5" width="161" height="91" class="b"/><text y="987.5"><tspan x="6138.5">gini = 0.0</tspan><tspan x="6138.5" dy="20">samples = 34</tspan><tspan x="6138.5" dy="20">value = [0, 34]</tspan><tspan x="6138.5" dy="20">class = 1</tspan></text></g>
<g id="n203" class="n"><rect x="6245" y="956.5" width="173" height="111" fill="#9ccef2"/><text y="977.5"><tspan x="6331.5">glucose ≤ 183.5</tspan><tspan x="6331.5" dy="20">gini = 0.444</tspan><tspan x="6331.5" dy="20">samples = 9</tspan><tspan x="6331.5" dy="20">value = [3, 6]</tspan><tspan x="6331.5" dy="20">class = 1</tspan></text></g>
<g id="n12" class="n"><rect x="29" y="1125.5" width="150" height="91" class="b"/><text y="1146.5"><tspan x="104">gini = 0.0</tspan><tspan x="104" dy="20">samples = 1</tspan><tspan x="104" dy="20">value = [0, 1]</tspan><tspan x="104" dy="20">class = 1</tspan></text></g>
<g id="n13" class="n"><rect x="203" y="1125.5" width="151" height="91" class="o"/><text y="1146.5"><tspan x="278.5">gini = 0.0</tspan><tspan x="278.5" dy="20">samples = 2</tspan><tspan x="278.5" dy="20">value = [2, 0]</tspan><tspan x="278.5" dy="20">class = 0</tspan></text></g>
<g id="n17" class="n"><rect x="379" y="1115.5" width="162" height="111" fill="#e78946"/><text y="1136.5"><tspan x="460">insulin ≤ 38.0</tspan><tspan x="460" dy="20">gini = 0.117</tspan><tspan x="460" dy="20">samples = 48</tspan><tspan x="460" dy="20">value = [45, 3]</tspan><tspan x="460" dy="20">class = 0</tspan></text></g>
<g id="n26" class="n"><rect x="566" y="1115.5" width="185" height="111" fill="#eca26d"/><text y="1136.5"><tspan x="658.5">pedigree ≤ 0.554</tspan><tspan x="658.5" dy="20">gini = 0.33</tspan><tspan x="658.5" dy="20">samples = 24</tspan><tspan x="658.5" dy="20">value = [19, 5]</tspan><tspan x="658.5" dy="20">class = 0</tspan></text></g>
<g id="n40" class="n"><rect x="777" y="1125.5" width="149" height="91" class="b"/><text y="1146.5"><tspan x="851.5">gini = 0.0</tspan><tspan x="851.5" dy="20">samples = 2</tspan><tspan x="851.5" dy="20">value = [0, 2]</tspan><tspan x="851.5" dy="20">class = 1</tspan></text></g>
<g id="n41" class="n"><rect x="951" y="1125.5" width="151" height="91" class="o"/><text y="1146.5"><tspan x="1026.5">gini = 0.0</tspan><tspan x="1026.5" dy="20">samples = 1</tspan><tspan x="1026.5" dy="20">value = [1, 0]</tspan><tspan x="1026.5" dy="20">class = 0</tspan></text></g>
<g id="n49" class="n"><rect x="1126" y="1115.5" width="150" height="111" fill="#e9965a"/><text y="1136.5"><tspan x="1201">age ≤ 31.5</tspan><tspan x="1201" dy="20">gini = 0.245</tspan><tspan x="1201" dy="20">samples = 7</tspan><tspan x="1201" dy="20">value = [6, 1]</tspan><tspan x="1201" dy="20">class = 0</tspan></text></g>
<g id="n52" class="n"><rect x="1302" y="1125.5" width="161" height="91" class="o"/><text y="1146.5"><tspan x="1382.5">gini = 0.0</tspan><tspan x="1382.5" dy="20">samples = 40</tspan><tspan x="1382.5" dy="20">value = [40, 0]</tspan><tspan x="1382.5" dy="20">class = 0</tspan></text></g>
<g id="n54" class="n"><rect x="1489" y="1125.5" width="150" height="91" class="o"/><text y="1146.5"><tspan x="1564">gini = 0.0</tspan><tspan x="1564" dy="20">samples = 2</tspan><tspan x="1564" dy="20">value = [2, 0]</tspan><tspan x="1564" dy="20">class = 0</tspan></text></g>
<g id="n55" class="n"><rect x="1663" y="1125.5" width="150" height="91" class="b"/><text y="1146.5"><tspan x="1738">gini = 0.0</tspan><tspan x="1738" dy="20">samples = 1</tspan><tspan x="1738" dy="20">value = [0, 1]</tspan><tspan x="1738" dy="20">class = 1</tspan></text></g>
<g id="n59" class="n"><rect x="1839" y="1115.5" width="162" height="111" fill="#eb9c64"/><text y="1136.5"><tspan x="1920">bmi ≤ 10.55</tspan><tspan x="1920" dy="20">gini = 0.293</tspan><tspan x="1920" dy="20">samples = 28</tspan><tspan x="1920" dy="20">value = [23, 5]</tspan><tspan x="1920" dy="20">class = 0</tspan></text></g>
<g id="n70" class="n"><rect x="2026" y="1115.5" width="174" height="111" fill="#e6f3fc"/><text y="1136.5"><tspan x="2113">glucose ≤ 121.0</tspan><tspan x="2113" dy="20">gini = 0.498</tspan><tspan x="2113" dy="20">samples = 30</tspan><tspan x="2113" dy="20">value = [14, 16]</tspan><tspan x="2113" dy="20">class = 1</tspan></text></g>
<g id="n88" class="n"><rect x="2237" y="1125.5" width="149" height="91" class="b"/><text y="1146.5"><tspan x="2311.5">gini = 0.0</tspan><tspan x="2311.5" dy="20">samples = 1</tspan><tspan x="2311.5" dy="20">value = [0, 1]</tspan><tspan x="2311.5" dy="20">class = 1</tspan></text></g>
<g id="n89" class="n"><rect x="2421" y="1115.5" width="163" height="111" fill="#e68742"/><text y="1136.5"><tspan x="2502.5">pregnant ≤ 0.5</tspan><tspan x="2502.5" dy="20">gini = 0.083</tspan><tspan x="2502.5" dy="20">samples = 23</tspan><tspan x="2502.5" dy="20">value = [22, 1]</tspan><tspan x="2502.5" dy="20">class = 0</tspan></text></g>
<g id="n102" class="n"><rect x="2791" y="1115.5" width="149" height="111" fill="#7bbeee"/><text y="1136.5"><tspan x="2865.5">bp ≤ 84.0</tspan><tspan x="2865.5" dy="20">gini = 0.375</tspan><tspan x="2865.5" dy="20">samples = 8</tspan><tspan x="2865.5" dy="20">value = [2, 6]</tspan><tspan x="2865.5" dy="20">class = 1</tspan></text></g>
<g id="n109" class="n"><rect x="3144" y="1115.5" width="149" height="111" fill="#f5d0b5"/><text y="1136.5"><tspan x="3218.5">age ≤ 55.0</tspan><tspan x="3218.5" dy="20">gini = 0.473</tspan><tspan x="3218.5" dy="20">samples = 13</tspan><tspan x="3218.5" dy="20">value = [8, 5]</tspan><tspan x="3218.5" dy="20">class = 0</tspan></text></g>
<g id="n135" class="n"><rect x="3421" y="1125.5" width="150" height="91" class="o"/><text y="1146.5"><tspan x="3496">gini = 0.0</tspan><tspan x="3496" dy="20">samples = 2</tspan><tspan x="3496" dy="20">value = [2, 0]</tspan><tspan x="3496" dy="20">class = 0</tspan></text></g>
<g id="n136" class="n"><rect x="3596" y="1115.5" width="161" height="111" fill="#9ccef2"/><text y="1136.5"><tspan x="3676.5">pregnant ≤ 1.5</tspan><tspan x="3676.5" dy="20">gini = 0.444</tspan><tspan x="3676.5" dy="20">samples = 3</tspan><tspan x="3676.5" dy="20">value = [1, 2]</tspan><tspan x="3676.5" dy="20">class = 1</tspan></text></g>
<g id="n143" class="n"><rect x="3789" y="1125.5" width="149" height="91" class="o"/><text y="1146.5"><tspan x="3863.5">gini = 0.0</tspan><tspan x="3863.5" dy="20">samples = 1</tspan><tspan x="3863.5" dy="20">value = [1, 0]</tspan><tspan x="3863.5" dy="20">class = 0</tspan></text></g>
<g id="n144" class="n"><rect x="3964" y="1125.5" width="149" height="91" class="b"/><text y="1146.5"><tspan x="4038.5">gini = 0.0</tspan><tspan x="4038.5" dy="20">samples = 2</tspan><tspan x="4038.5" dy="20">value = [0, 2]</tspan><tspan x="4038.5" dy="20">class = 1</tspan></text></g>
<g id="n153" class="n"><rect x="4144" y="1125.5" width="149" height="91" class="b"/><text y="1146.5"><tspan x="4218.5">gini = 0.0</tspan><tspan x="4218.5" dy="20">samples = 4</tspan><tspan x="4218.5" dy="20">value = [0, 4]</tspan><tspan x="4218.5" dy="20">class = 1</tspan></text></g>
<g id="n154" class="n"><rect x="4320" y="1115.5" width="161" height="111" fill="#eda774"/><text y="1136.5"><tspan x="4400.5">bp ≤ 72.0</tspan><tspan x="4400.5" dy="20">gini = 0.355</tspan><tspan x="4400.5" dy="20">samples = 13</tspan><tspan x="4400.5" dy="20">value = [10, 3]</tspan><tspan x="4400.5" dy="20">class = 0</tspan></text></g>
<g id="n161" class="n"><rect x="4590" y="1115.5" width="150" height="111" fill="#f0b78e"/><text y="1136.5"><tspan x="4665">bmi ≤ 30.65</tspan><tspan x="4665" dy="20">gini = 0.42</tspan><tspan x="4665" dy="20">samples = 10</tspan><tspan x="4665" dy="20">value = [7, 3]</tspan><tspan x="4665" dy="20">class = 0</tspan></text></g>
<g id="n170" class="n"><rect x="4765" y="1115.5" width="150" height="111" fill="#6ab6ec"/><text y="1136.5"><tspan x="4840">bmi ≤ 37.25</tspan><tspan x="4840" dy="20">gini = 0.32</tspan><tspan x="4840" dy="20">samples = 10</tspan><tspan x="4840" dy="20">value = [2, 8]</tspan><tspan x="4840" dy="20">class = 1</tspan></text></g>
<g id="n178" class="n"><rect x="5102" y="1115.5" width="184" height="111" fill="#50a9e8"/><text y="1136.5"><tspan x="5194">pedigree ≤ 1.088</tspan><tspan x="5194" dy="20">gini = 0.188</tspan><tspan x="5194" dy="20">samples = 19</tspan><tspan x="5194" dy="20">value = [2, 17]</tspan><tspan x="5194" dy="20">class = 1</tspan></text></g>
<g id="n183" class="n"><rect x="5312" y="1125.5" width="149" height="91" class="o"/><text y="1146.5"><tspan x="5386.5">gini = 0.0</tspan><tspan x="5386.5" dy="20">samples = 2</tspan><tspan x="5386.5" dy="20">value = [2, 0]</tspan><tspan x="5386.5" dy="20">class = 0</tspan></text></g>
<g id="n188" class="n"><rect x="5487" y="1125.5" width="149" height="91" class="o"/><text y="1146.5"><tspan x="5561.5">gini = 0.0</tspan><tspan x="5561.5" dy="20">samples = 3</tspan><tspan x="5561.5" dy="20">value = [3, 0]</tspan><tspan x="5561.5" dy="20">class = 0</tspan></text></g>
<g id="n189" class="n"><rect x="5662" y="1115.5" width="172" height="111" fill="#88c4ef"/><text y="1136.5"><tspan x="5748">pedigree ≤ 0.22</tspan><tspan x="5748" dy="20">gini = 0.408</tspan><tspan x="5748" dy="20">samples = 7</tspan><tspan x="5748" dy="20">value = [2, 5]</tspan><tspan x="5748" dy="20">class = 1</tspan></text></g>
<g id="n195" class="n"><rect x="5859" y="1115.5" width="162" height="111" fill="#48a5e7"/><text y="1136.5"><tspan x="5940">age ≤ 56.5</tspan><tspan x="5940" dy="20">gini = 0.133</tspan><tspan x="5940" dy="20">samples = 14</tspan><tspan x="5940" dy="20">value = [1, 13]</tspan><tspan x="5940" dy="20">class = 1</tspan></text></g>
<g id="n200" class="n"><rect x="6047" y="1125.5" width="149" height="91" class="o"/><text y="1146.5"><tspan x="6121.5">gini = 0.0</tspan><tspan x="6121.5" dy="20">samples = 1</tspan><tspan x="6121.5" dy="20">value = [1, 0]</tspan><tspan x="6121.5" dy="20">class = 0</tspan></text></g>
<g id="n204" class="n"><rect x="6257" y="1115.5" width="150" height="111" fill="#f6d5bd"/><text y="1136.5"><tspan x="6332">bmi ≤ 32.6</tspan><tspan x="6332" dy="20">gini = 0.48</tspan><tspan x="6332" dy="20">samples = 5</tspan><tspan x="6332" dy="20">value = [3, 2]</tspan><tspan x="6332" dy="20">class = 0</tspan></text></g>
<g id="n207" class="n"><rect x="6431" y="1125.5" width="150" height="91" class="b"/><text y="1146.5"><tspan x="6506">gini = 0.0</tspan><tspan x="6506" dy="20">samples = 4</tspan><tspan x="6506" dy="20">value = [0, 4]</tspan><tspan x="6506" dy="20">class = 1</tspan></text></g>
<g id="n18" class="n"><rect x="193" y="1274" width="161" height="111" fill="#eca06a"/><text y="1295"><tspan x="273.5">bp ≤ 73.0</tspan><tspan x="273.5" dy="20">gini = 0.32</tspan><tspan x="273.5" dy="20">samples = 15</tspan><tspan x="273.5" dy="20">value = [12, 3]</tspan><tspan x="273.5" dy="20">class = 0</tspan></text></g>
<g id="n25" class="n"><rect x="379" y="1284" width="162" height="91" class="o"/><text y="1305"><tspan x="460">gini = 0.0</tspan><tspan x="460" dy="20">samples = 33</tspan><tspan x="460" dy="20">value = [33, 0]</tspan><tspan x="460" dy="20">class = 0</tspan></text></g>
<g id="n27" class="n"><rect x="566" y="1274" width="163" height="111" fill="#9ccef2"/><text y="1295"><tspan x="647.5">pregnant ≤ 0.5</tspan><tspan x="647.5" dy="20">gini = 0.444</tspan><tspan x="647.5" dy="20">samples = 3</tspan><tspan x="647.5" dy="20">value = [1, 2]</tspan><tspan x="647.5" dy="20">class = 1</tspan></text></g>
<g id="n30" class="n"><rect x="756" y="1274" width="160" height="111" fill="#e9965a"/><text y="1295"><tspan x="836">bp ≤ 64.5</tspan><tspan x="836" dy="20">gini = 0.245</tspan><tspan x="836" dy="20">samples = 21</tspan><tspan x="836" dy="20">value = [18, 3]</tspan><tspan x="836" dy="20">class = 0</tspan></text></g>
<g id="n50" class="n"><rect x="1001" y="1284" width="150" height="91" class="b"/><text y="1305"><tspan x="1076">gini = 0.0</tspan><tspan x="1076" dy="20">samples = 1</tspan><tspan x="1076" dy="20">value = [0, 1]</tspan><tspan x="1076" dy="20">class = 1</tspan></text></g>
<g id="n51" class="n"><rect x="1175" y="1284" width="150" height="91" class="o"/><text y="1305"><tspan x="1250">gini = 0.0</tspan><tspan x="1250" dy="20">samples = 6</tspan><tspan x="1250" dy="20">value = [6, 0]</tspan><tspan x="1250" dy="20">class = 0</tspan></text></g>
<g id="n60" class="n"><rect x="1400" y="1284" width="151" height="91" class="b"/><text y="1305"><tspan x="1475.5">gini = 0.0</tspan><tspan x="1475.5" dy="20">samples = 1</tspan><tspan x="1475.5" dy="20">value = [0, 1]</tspan><tspan x="1475.5" dy="20">class = 1</tspan></text></g>
<g id="n61" class="n"><rect x="1575" y="1274" width="163" height="111" fill="#ea975b"/><text y="1295"><tspan x="1656.5">bp ≤ 71.0</tspan><tspan x="1656.5" dy="20">gini = 0.252</tspan><tspan x="1656.5" dy="20">samples = 27</tspan><tspan x="1656.5" dy="20">value = [23, 4]</tspan><tspan x="1656.5" dy="20">class = 0</tspan></text></g>
<g id="n71" class="n"><rect x="1857" y="1274" width="174" height="111" fill="#8cc6f0"/><text y="1295"><tspan x="1944">glucose ≤ 111.5</tspan><tspan x="1944" dy="20">gini = 0.415</tspan><tspan x="1944" dy="20">samples = 17</tspan><tspan x="1944" dy="20">value = [5, 12]</tspan><tspan x="1944" dy="20">class = 1</tspan></text></g>
<g id="n80" class="n"><rect x="2061" y="1274" width="150" height="111" fill="#f1b991"/><text y="1295"><tspan x="2136">age ≤ 46.0</tspan><tspan x="2136" dy="20">gini = 0.426</tspan><tspan x="2136" dy="20">samples = 13</tspan><tspan x="2136" dy="20">value = [9, 4]</tspan><tspan x="2136" dy="20">class = 0</tspan></text></g>
<g id="n90" class="n"><rect x="2428" y="1274" width="149" height="111" fill="#ffffff"/><text y="1295"><tspan x="2502.5">bp ≤ 80.0</tspan><tspan x="2502.5" dy="20">gini = 0.5</tspan><tspan x="2502.5" dy="20">samples = 2</tspan><tspan x="2502.5" dy="20">value = [1, 1]</tspan><tspan x="2502.5" dy="20">class = 0</tspan></text></g>
<g id="n93" class="n"><rect x="2603" y="1284" width="161" height="91" class="o"/><text y="1305"><tspan x="2683.5">gini = 0.0</tspan><tspan x="2683.5" dy="20">samples = 21</tspan><tspan x="2683.5" dy="20">value = [21, 0]</tspan><tspan x="2683.5" dy="20">class = 0</tspan></text></g>
<g id="n103" class="n"><rect x="2791" y="1274" width="149" height="111" fill="#5aade9"/><text y="1295"><tspan x="2865.5">bmi ≤ 29.75</tspan><tspan x="2865.5" dy="20">gini = 0.245</tspan><tspan x="2865.5" dy="20">samples = 7</tspan><tspan x="2865.5" dy="20">value = [1, 6]</tspan><tspan x="2865.5" dy="20">class = 1</tspan></text></g>
<g id="n108" class="n"><rect x="2965" y="1284" width="149" height="91" class="o"/><text y="1305"><tspan x="3039.5">gini = 0.0</tspan><tspan x="3039.5" dy="20">samples = 1</tspan><tspan x="3039.5" dy="20">value = [1, 0]</tspan><tspan x="3039.5" dy="20">class = 0</tspan></text></g>
<g id="n110" class="n"><rect x="3144" y="1274" width="149" height="111" fill="#efb083"/><text y="1295"><tspan x="3218.5">age ≤ 31.5</tspan><tspan x="3218.5" dy="20">gini = 0.397</tspan><tspan x="3218.5" dy="20">samples = 11</tspan><tspan x="3218.5" dy="20">value = [8, 3]</tspan><tspan x="3218.5" dy="20">class = 0</tspan></text></g>
<g id="n119" class="n"><rect x="3318" y="1284" width="150" height="91" class="b"/><text y="1305"><tspan x="3393">gini = 0.0</tspan><tspan x="3393" dy="20">samples = 2</tspan><tspan x="3393" dy="20">value = [0, 2]</tspan><tspan x="3393" dy="20">class = 1</tspan></text></g>
<g id="n137" class="n"><rect x="3547" y="1284" width="149" height="91" class="o"/><text y="1305"><tspan x="3621.5">gini = 0.0</tspan><tspan x="3621.5" dy="20">samples = 1</tspan><tspan x="3621.5" dy="20">value = [1, 0]</tspan><tspan x="3621.5" dy="20">class = 0</tspan></text></g>
<g id="n138" class="n"><rect x="3722" y="1284" width="150" height="91" class="b"/><text y="1305"><tspan x="3797">gini = 0.0</tspan><tspan x="3797" dy="20">samples = 2</tspan><tspan x="3797" dy="20">value = [0, 2]</tspan><tspan x="3797" dy="20">class = 1</tspan></text></g>
<g id="n155" class="n"><rect x="4066" y="1274" width="150" height="111" fill="#bddef6"/><text y="1295"><tspan x="4141">bp ≤ 63.5</tspan><tspan x="4141" dy="20">gini = 0.48</tspan><tspan x="4141" dy="20">samples = 5</tspan><tspan x="4141" dy="20">value = [2, 3]</tspan><tspan x="4141" dy="20">class = 1</tspan></text></g>
<g id="n158" class="n"><rect x="4240" y="1284" width="151" height="91" class="o"/><text y="1305"><tspan x="4315.5">gini = 0.0</tspan><tspan x="4315.5" dy="20">samples = 8</tspan><tspan x="4315.5" dy="20">value = [8, 0]</tspan><tspan x="4315.5" dy="20">class = 0</tspan></text></g>
<g id="n162" class="n"><rect x="4415" y="1284" width="151" height="91" class="b"/><text y="1305"><tspan x="4490.5">gini = 0.0</tspan><tspan x="4490.5" dy="20">samples = 1</tspan><tspan x="4490.5" dy="20">value = [0, 1]</tspan><tspan x="4490.5" dy="20">class = 1</tspan></text></g>
<g id="n163" class="n"><rect x="4590" y="1274" width="150" height="111" fill="#eca572"/><text y="1295"><tspan x="4665">age ≤ 67.5</tspan><tspan x="4665" dy="20">gini = 0.346</tspan><tspan x="4665" dy="20">samples = 9</tspan><tspan x="4665" dy="20">value = [7, 2]</tspan><tspan x="4665" dy="20">class = 0</tspan></text></g>
<g id="n171" class="n"><rect x="4765" y="1284" width="150" height="91" class="b"/><text y="1305"><tspan x="4840">gini = 0.0</tspan><tspan x="4840" dy="20">samples = 4</tspan><tspan x="4840" dy="20">value = [0, 4]</tspan><tspan x="4840" dy="20">class = 1</tspan></text></g>
<g id="n172" class="n"><rect x="4940" y="1274" width="150" height="111" fill="#9ccef2"/><text y="1295"><tspan x="5015">bmi ≤ 45.6</tspan><tspan x="5015" dy="20">gini = 0.444</tspan><tspan x="5015" dy="20">samples = 6</tspan><tspan x="5015" dy="20">value = [2, 4]</tspan><tspan x="5015" dy="20">class = 1</tspan></text></g>
<g id="n179" class="n"><rect x="5115" y="1284" width="162" height="91" class="b"/><text y="1305"><tspan x="5196">gini = 0.0</tspan><tspan x="5196" dy="20">samples = 16</tspan><tspan x="5196" dy="20">value = [0, 16]</tspan><tspan x="5196" dy="20">class = 1</tspan></text></g>
<g id="n180" class="n"><rect x="5301" y="1274" width="164" height="111" fill="#f2c09c"/><text y="1295"><tspan x="5383">insulin ≤ 147.5</tspan><tspan x="5383" dy="20">gini = 0.444</tspan><tspan x="5383" dy="20">samples = 3</tspan><tspan x="5383" dy="20">value = [2, 1]</tspan><tspan x="5383" dy="20">class = 0</tspan></text></g>
<g id="n190" class="n"><rect x="5494" y="1284" width="149" height="91" class="o"/><text y="1305"><tspan x="5568.5">gini = 0.0</tspan><tspan x="5568.5" dy="20">samples = 1</tspan><tspan x="5568.5" dy="20">value = [1, 0]</tspan><tspan x="5568.5" dy="20">class = 0</tspan></text></g>
<g id="n191" class="n"><rect x="5669" y="1274" width="162" height="111" fill="#61b1ea"/><text y="1295"><tspan x="5750">pregnant ≤ 1.5</tspan><tspan x="5750" dy="20">gini = 0.278</tspan><tspan x="5750" dy="20">samples = 6</tspan><tspan x="5750" dy="20">value = [1, 5]</tspan><tspan x="5750" dy="20">class = 1</tspan></text></g>
<g id="n196" class="n"><rect x="5859" y="1284" width="161" height="91" class="b"/><text y="1305"><tspan x="5939.5">gini = 0.0</tspan><tspan x="5939.5" dy="20">samples = 12</tspan><tspan x="5939.5" dy="20">value = [0, 12]</tspan><tspan x="5939.5" dy="20">class = 1</tspan></text></g>
<g id="n197" class="n"><rect x="6046" y="1274" width="184" height="111" fill="#ffffff"/><text y="1295"><tspan x="6138">pedigree ≤ 0.221</tspan><tspan x="6138" dy="20">gini = 0.5</tspan><tspan x="6138" dy="20">samples = 2</tspan><tspan x="6138" dy="20">value = [1, 1]</tspan><tspan x="6138" dy="20">class = 0</tspan></text></g>
<g id="n205" class="n"><rect x="6257" y="1284" width="150" height="91" class="b"/><text y="1305"><tspan x="6332">gini = 0.0</tspan><tspan x="6332" dy="20">samples = 2</tspan><tspan x="6332" dy="20">value = [0, 2]</tspan><tspan x="6332" dy="20">class = 1</tspan></text></g>
<g id="n206" class="n"><rect x="6431" y="1284" width="150" height="91" class="o"/><text y="1305"><tspan x="6506">gini = 0.0</tspan><tspan x="6506" dy="20">samples = 3</tspan><tspan x="6506" dy="20">value = [3, 0]</tspan><tspan x="6506" dy="20">class = 0</tspan></text></g>
<g id="n19" class="n"><rect x="37" y="1442.5" width="150" height="91" class="o"/><text y="1463.5"><tspan x="112">gini = 0.0</tspan><tspan x="112" dy="20">samples = 9</tspan><tspan x="112" dy="20">value = [9, 0]</tspan><tspan x="112" dy="20">class = 0</tspan></text></g>
<g id="n20" class="n"><rect x="212" y="1432.5" width="150" height="111" fill="#ffffff"/><text y="1453.5"><tspan x="287">age ≤ 22.5</tspan><tspan x="287" dy="20">gini = 0.5</tspan><tspan x="287" dy="20">samples = 6</tspan><tspan x="287" dy="20">value = [3, 3]</tspan><tspan x="287" dy="20">class = 0</tspan></text></g>
<g id="n28" class="n"><rect x="398" y="1442.5" width="150" height="91" class="o"/><text y="1463.5"><tspan x="473">gini = 0.0</tspan><tspan x="473" dy="20">samples = 1</tspan><tspan x="473" dy="20">value = [1, 0]</tspan><tspan x="473" dy="20">class = 0</tspan></text></g>
<g id="n29" class="n"><rect x="574" y="1442.5" width="149" height="91" class="b"/><text y="1463.5"><tspan x="648.5">gini = 0.0</tspan><tspan x="648.5" dy="20">samples = 2</tspan><tspan x="648.5" dy="20">value = [0, 2]</tspan><tspan x="648.5" dy="20">class = 1</tspan></text></g>
<g id="n31" class="n"><rect x="747" y="1432.5" width="153" height="111" fill="#f2c09c"/><text y="1453.5"><tspan x="823.5">insulin ≤ 95.5</tspan><tspan x="823.5" dy="20">gini = 0.444</tspan><tspan x="823.5" dy="20">samples = 6</tspan><tspan x="823.5" dy="20">value = [4, 2]</tspan><tspan x="823.5" dy="20">class = 0</tspan></text></g>
<g id="n34" class="n"><rect x="925" y="1432.5" width="162" height="111" fill="#e78a47"/><text y="1453.5"><tspan x="1006">bmi ≤ 42.8</tspan><tspan x="1006" dy="20">gini = 0.124</tspan><tspan x="1006" dy="20">samples = 15</tspan><tspan x="1006" dy="20">value = [14, 1]</tspan><tspan x="1006" dy="20">class = 0</tspan></text></g>
<g id="n62" class="n"><rect x="1308" y="1432.5" width="149" height="111" fill="#f4c9aa"/><text y="1453.5"><tspan x="1382.5">bmi ≤ 26.2</tspan><tspan x="1382.5" dy="20">gini = 0.463</tspan><tspan x="1382.5" dy="20">samples = 11</tspan><tspan x="1382.5" dy="20">value = [7, 4]</tspan><tspan x="1382.5" dy="20">class = 0</tspan></text></g>
<g id="n69" class="n"><rect x="1483" y="1442.5" width="161" height="91" class="o"/><text y="1463.5"><tspan x="1563.5">gini = 0.0</tspan><tspan x="1563.5" dy="20">samples = 16</tspan><tspan x="1563.5" dy="20">value = [16, 0]</tspan><tspan x="1563.5" dy="20">class = 0</tspan></text></g>
<g id="n72" class="n"><rect x="1671" y="1432.5" width="173" height="111" fill="#fae6d7"/><text y="1453.5"><tspan x="1757.5">glucose ≤ 109.0</tspan><tspan x="1757.5" dy="20">gini = 0.494</tspan><tspan x="1757.5" dy="20">samples = 9</tspan><tspan x="1757.5" dy="20">value = [5, 4]</tspan><tspan x="1757.5" dy="20">class = 0</tspan></text></g>
<g id="n79" class="n"><rect x="1869" y="1442.5" width="150" height="91" class="b"/><text y="1463.5"><tspan x="1944">gini = 0.0</tspan><tspan x="1944" dy="20">samples = 8</tspan><tspan x="1944" dy="20">value = [0, 8]</tspan><tspan x="1944" dy="20">class = 1</tspan></text></g>
<g id="n81" class="n"><rect x="2043" y="1432.5" width="184" height="111" fill="#eb9d65"/><text y="1453.5"><tspan x="2135">pedigree ≤ 0.239</tspan><tspan x="2135" dy="20">gini = 0.298</tspan><tspan x="2135" dy="20">samples = 11</tspan><tspan x="2135" dy="20">value = [9, 2]</tspan><tspan x="2135" dy="20">class = 0</tspan></text></g>
<g id="n86" class="n"><rect x="2253" y="1442.5" width="150" height="91" class="b"/><text y="1463.5"><tspan x="2328">gini = 0.0</tspan><tspan x="2328" dy="20">samples = 2</tspan><tspan x="2328" dy="20">value = [0, 2]</tspan><tspan x="2328" dy="20">class = 1</tspan></text></g>
<g id="n91" class="n"><rect x="2428" y="1442.5" width="149" height="91" class="b"/><text y="1463.5"><tspan x="2502.5">gini = 0.0</tspan><tspan x="2502.5" dy="20">samples = 1</tspan><tspan x="2502.5" dy="20">value = [0, 1]</tspan><tspan x="2502.5" dy="20">class = 1</tspan></text></g>
<g id="n92" class="n"><rect x="2603" y="1442.5" width="149" height="91" class="o"/><text y="1463.5"><tspan x="2677.5">gini = 0.0</tspan><tspan x="2677.5" dy="20">samples = 1</tspan><tspan x="2677.5" dy="20">value = [1, 0]</tspan><tspan x="2677.5" dy="20">class = 0</tspan></text></g>
<g id="n104" class="n"><rect x="2778" y="1432.5" width="149" height="111" fill="#ffffff"/><text y="1453.5"><tspan x="2852.5">bp ≤ 66.0</tspan><tspan x="2852.5" dy="20">gini = 0.5</tspan><tspan x="2852.5" dy="20">samples = 2</tspan><tspan x="2852.5" dy="20">value = [1, 1]</tspan><tspan x="2852.5" dy="20">class = 0</tspan></text></g>
<g id="n107" class="n"><rect x="2952" y="1442.5" width="150" height="91" class="b"/><text y="1463.5"><tspan x="3027">gini = 0.0</tspan><tspan x="3027" dy="20">samples = 5</tspan><tspan x="3027" dy="20">value = [0, 5]</tspan><tspan x="3027" dy="20">class = 1</tspan></text></g>
<g id="n111" class="n"><rect x="3126" y="1432.5" width="185" height="111" fill="#9ccef2"/><text y="1453.5"><tspan x="3218.5">pedigree ≤ 0.892</tspan><tspan x="3218.5" dy="20">gini = 0.444</tspan><tspan x="3218.5" dy="20">samples = 3</tspan><tspan x="3218.5" dy="20">value = [1, 2]</tspan><tspan x="3218.5" dy="20">class = 1</tspan></text></g>
<g id="n114" class="n"><rect x="3336" y="1432.5" width="163" height="111" fill="#e99355"/><text y="1453.5"><tspan x="3417.5">pregnant ≤ 6.5</tspan><tspan x="3417.5" dy="20">gini = 0.219</tspan><tspan x="3417.5" dy="20">samples = 8</tspan><tspan x="3417.5" dy="20">value = [7, 1]</tspan><tspan x="3417.5" dy="20">class = 0</tspan></text></g>
<g id="n156" class="n"><rect x="3974" y="1442.5" width="150" height="91" class="o"/><text y="1463.5"><tspan x="4049">gini = 0.0</tspan><tspan x="4049" dy="20">samples = 2</tspan><tspan x="4049" dy="20">value = [2, 0]</tspan><tspan x="4049" dy="20">class = 0</tspan></text></g>
<g id="n157" class="n"><rect x="4149" y="1442.5" width="149" height="91" class="b"/><text y="1463.5"><tspan x="4223.5">gini = 0.0</tspan><tspan x="4223.5" dy="20">samples = 3</tspan><tspan x="4223.5" dy="20">value = [0, 3]</tspan><tspan x="4223.5" dy="20">class = 1</tspan></text></g>
<g id="n164" class="n"><rect x="4398" y="1432.5" width="174" height="111" fill="#e99355"/><text y="1453.5"><tspan x="4485">glucose ≤ 135.0</tspan><tspan x="4485" dy="20">gini = 0.219</tspan><tspan x="4485" dy="20">samples = 8</tspan><tspan x="4485" dy="20">value = [7, 1]</tspan><tspan x="4485" dy="20">class = 0</tspan></text></g>
<g id="n169" class="n"><rect x="4597" y="1442.5" width="150" height="91" class="b"/><text y="1463.5"><tspan x="4672">gini = 0.0</tspan><tspan x="4672" dy="20">samples = 1</tspan><tspan x="4672" dy="20">value = [0, 1]</tspan><tspan x="4672" dy="20">class = 1</tspan></text></g>
<g id="n173" class="n"><rect x="4808" y="1432.5" width="148" height="111" fill="#f2c09c"/><text y="1453.5"><tspan x="4882">bp ≤ 77.0</tspan><tspan x="4882" dy="20">gini = 0.444</tspan><tspan x="4882" dy="20">samples = 3</tspan><tspan x="4882" dy="20">value = [2, 1]</tspan><tspan x="4882" dy="20">class = 0</tspan></text></g>
<g id="n176" class="n"><rect x="4982" y="1442.5" width="150" height="91" class="b"/><text y="1463.5"><tspan x="5057">gini = 0.0</tspan><tspan x="5057" dy="20">samples = 3</tspan><tspan x="5057" dy="20">value = [0, 3]</tspan><tspan x="5057" dy="20">class = 1</tspan></text></g>
<g id="n181" class="n"><rect x="5236" y="1442.5" width="149" height="91" class="o"/><text y="1463.5"><tspan x="5310.5">gini = 0.0</tspan><tspan x="5310.5" dy="20">samples = 2</tspan><tspan x="5310.5" dy="20">value = [2, 0]</tspan><tspan x="5310.5" dy="20">class = 0</tspan></text></g>
<g id="n182" class="n"><rect x="5411" y="1442.5" width="149" height="91" class="b"/><text y="1463.5"><tspan x="5485.5">gini = 0.0</tspan><tspan x="5485.5" dy="20">samples = 1</tspan><tspan x="5485.5" dy="20">value = [0, 1]</tspan><tspan x="5485.5" dy="20">class = 1</tspan></text></g>
<g id="n192" class="n"><rect x="5602" y="1442.5" width="149" height="91" class="o"/><text y="1463.5"><tspan x="5676.5">gini = 0.0</tspan><tspan x="5676.5" dy="20">samples = 1</tspan><tspan x="5676.5" dy="20">value = [1, 0]</tspan><tspan x="5676.5" dy="20">class = 0</tspan></text></g>
<g id="n193" class="n"><rect x="5777" y="1442.5" width="149" height="91" class="b"/><text y="1463.5"><tspan x="5851.5">gini = 0.0</tspan><tspan x="5851.5" dy="20">samples = 5</tspan><tspan x="5851.5" dy="20">value = [0, 5]</tspan><tspan x="5851.5" dy="20">class = 1</tspan></text></g>
<g id="n198" class="n"><rect x="5961" y="1442.5" width="149" height="91" class="o"/><text y="1463.5"><tspan x="6035.5">gini = 0.0</tspan><tspan x="6035.5" dy="20">samples = 1</tspan><tspan x="6035.5" dy="20">value = [1, 0]</tspan><tspan x="6035.5" dy="20">class = 0</tspan></text></g>
<g id="n199" class="n"><rect x="6136" y="1442.5" width="149" height="91" class="b"/><text y="1463.5"><tspan x="6210.5">gini = 0.0</tspan><tspan x="6210.5" dy="20">samples = 1</tspan><tspan x="6210.5" dy="20">value = [0, 1]</tspan><tspan x="6210.5" dy="20">class = 1</tspan></text></g>
<g id="n21" class="n"><rect x="125" y="1601" width="150" height="91" class="o"/><text y="1622"><tspan x="200">gini = 0.0</tspan><tspan x="200" dy="20">samples = 2</tspan><tspan x="200" dy="20">value = [2, 0]</tspan><tspan x="200" dy="20">class = 0</tspan></text></g>
<g id="n22" class="n"><rect x="300" y="1591" width="150" height="111" fill="#7bbeee"/><text y="1612"><tspan x="375">bmi ≤ 37.45</tspan><tspan x="375" dy="20">gini = 0.375</tspan><tspan x="375" dy="20">samples = 4</tspan><tspan x="375" dy="20">value = [1, 3]</tspan><tspan x="375" dy="20">class = 1</tspan></text></g>
<g id="n32" class="n"><rect x="575" y="1601" width="149" height="91" class="o"/><text y="1622"><tspan x="649.5">gini = 0.0</tspan><tspan x="649.5" dy="20">samples = 4</tspan><tspan x="649.5" dy="20">value = [4, 0]</tspan><tspan x="649.5" dy="20">class = 0</tspan></text></g>
<g id="n33" class="n"><rect x="749" y="1601" width="150" height="91" class="b"/><text y="1622"><tspan x="824">gini = 0.0</tspan><tspan x="824" dy="20">samples = 2</tspan><tspan x="824" dy="20">value = [0, 2]</tspan><tspan x="824" dy="20">class = 1</tspan></text></g>
<g id="n35" class="n"><rect x="924" y="1601" width="162" height="91" class="o"/><text y="1622"><tspan x="1005">gini = 0.0</tspan><tspan x="1005" dy="20">samples = 12</tspan><tspan x="1005" dy="20">value = [12, 0]</tspan><tspan x="1005" dy="20">class = 0</tspan></text></g>
<g id="n36" class="n"><rect x="1112" y="1591" width="150" height="111" fill="#f2c09c"/><text y="1612"><tspan x="1187">age ≤ 22.5</tspan><tspan x="1187" dy="20">gini = 0.444</tspan><tspan x="1187" dy="20">samples = 3</tspan><tspan x="1187" dy="20">value = [2, 1]</tspan><tspan x="1187" dy="20">class = 0</tspan></text></g>
<g id="n63" class="n"><rect x="1296" y="1601" width="149" height="91" class="o"/><text y="1622"><tspan x="1370.5">gini = 0.0</tspan><tspan x="1370.5" dy="20">samples = 5</tspan><tspan x="1370.5" dy="20">value = [5, 0]</tspan><tspan x="1370.5" dy="20">class = 0</tspan></text></g>
<g id="n64" class="n"><rect x="1470" y="1591" width="151" height="111" fill="#9ccef2"/><text y="1612"><tspan x="1545.5">bmi ≤ 27.45</tspan><tspan x="1545.5" dy="20">gini = 0.444</tspan><tspan x="1545.5" dy="20">samples = 6</tspan><tspan x="1545.5" dy="20">value = [2, 4]</tspan><tspan x="1545.5" dy="20">class = 1</tspan></text></g>
<g id="n73" class="n"><rect x="1682" y="1591" width="150" height="111" fill="#9ccef2"/><text y="1612"><tspan x="1757">bp ≤ 71.0</tspan><tspan x="1757" dy="20">gini = 0.444</tspan><tspan x="1757" dy="20">samples = 6</tspan><tspan x="1757" dy="20">value = [2, 4]</tspan><tspan x="1757" dy="20">class = 1</tspan></text></g>
<g id="n78" class="n"><rect x="1857" y="1601" width="149" height="91" class="o"/><text y="1622"><tspan x="1931.5">gini = 0.0</tspan><tspan x="1931.5" dy="20">samples = 3</tspan><tspan x="1931.5" dy="20">value = [3, 0]</tspan><tspan x="1931.5" dy="20">class = 0</tspan></text></g>
<g id="n82" class="n"><rect x="2037" y="1591" width="184" height="111" fill="#ffffff"/><text y="1612"><tspan x="2129">pedigree ≤ 0.174</tspan><tspan x="2129" dy="20">gini = 0.5</tspan><tspan x="2129" dy="20">samples = 4</tspan><tspan x="2129" dy="20">value = [2, 2]</tspan><tspan x="2129" dy="20">class = 0</tspan></text></g>
<g id="n85" class="n"><rect x="2247" y="1601" width="149" height="91" class="o"/><text y="1622"><tspan x="2321.5">gini = 0.0</tspan><tspan x="2321.5" dy="20">samples = 7</tspan><tspan x="2321.5" dy="20">value = [7, 0]</tspan><tspan x="2321.5" dy="20">class = 0</tspan></text></g>
<g id="n105" class="n"><rect x="2617" y="1601" width="149" height="91" class="b"/><text y="1622"><tspan x="2691.5">gini = 0.0</tspan><tspan x="2691.5" dy="20">samples = 1</tspan><tspan x="2691.5" dy="20">value = [0, 1]</tspan><tspan x="2691.5" dy="20">class = 1</tspan></text></g>
<g id="n106" class="n"><rect x="2792" y="1601" width="150" height="91" class="o"/><text y="1622"><tspan x="2867">gini = 0.0</tspan><tspan x="2867" dy="20">samples = 1</tspan><tspan x="2867" dy="20">value = [1, 0]</tspan><tspan x="2867" dy="20">class = 0</tspan></text></g>
<g id="n112" class="n"><rect x="2976" y="1601" width="149" height="91" class="b"/><text y="1622"><tspan x="3050.5">gini = 0.0</tspan><tspan x="3050.5" dy="20">samples = 2</tspan><tspan x="3050.5" dy="20">value = [0, 2]</tspan><tspan x="3050.5" dy="20">class = 1</tspan></text></g>
<g id="n113" class="n"><rect x="3151" y="1601" width="149" height="91" class="o"/><text y="1622"><tspan x="3225.5">gini = 0.0</tspan><tspan x="3225.5" dy="20">samples = 1</tspan><tspan x="3225.5" dy="20">value = [1, 0]</tspan><tspan x="3225.5" dy="20">class = 0</tspan></text></g>
<g id="n115" class="n"><rect x="3336" y="1601" width="150" height="91" class="o"/><text y="1622"><tspan x="3411">gini = 0.0</tspan><tspan x="3411" dy="20">samples = 6</tspan><tspan x="3411" dy="20">value = [6, 0]</tspan><tspan x="3411" dy="20">class = 0</tspan></text></g>
<g id="n116" class="n"><rect x="3511" y="1591" width="153" height="111" fill="#ffffff"/><text y="1612"><tspan x="3587.5">insulin ≤ 39.5</tspan><tspan x="3587.5" dy="20">gini = 0.5</tspan><tspan x="3587.5" dy="20">samples = 2</tspan><tspan x="3587.5" dy="20">value = [1, 1]</tspan><tspan x="3587.5" dy="20">class = 0</tspan></text></g>
<g id="n165" class="n"><rect x="4343" y="1591" width="151" height="111" fill="#ffffff"/><text y="1612"><tspan x="4418.5">bmi ≤ 32.65</tspan><tspan x="4418.5" dy="20">gini = 0.5</tspan><tspan x="4418.5" dy="20">samples = 2</tspan><tspan x="4418.5" dy="20">value = [1, 1]</tspan><tspan x="4418.5" dy="20">class = 0</tspan></text></g>
<g id="n168" class="n"><rect x="4518" y="1601" width="150" height="91" class="o"/><text y="1622"><tspan x="4593">gini = 0.0</tspan><tspan x="4593" dy="20">samples = 6</tspan><tspan x="4593" dy="20">value = [6, 0]</tspan><tspan x="4593" dy="20">class = 0</tspan></text></g>
<g id="n174" class="n"><rect x="4698" y="1601" width="151" height="91" class="b"/><text y="1622"><tspan x="4773.5">gini = 0.0</tspan><tspan x="4773.5" dy="20">samples = 1</tspan><tspan x="4773.5" dy="20">value = [0, 1]</tspan><tspan x="4773.5" dy="20">class = 1</tspan></text></g>
<g id="n175" class="n"><rect x="4872" y="1601" width="151" height="91" class="o"/><text y="1622"><tspan x="4947.5">gini = 0.0</tspan><tspan x="4947.5" dy="20">samples = 2</tspan><tspan x="4947.5" dy="20">value = [2, 0]</tspan><tspan x="4947.5" dy="20">class = 0</tspan></text></g>
<g id="n23" class="n"><rect x="213" y="1759.5" width="150" height="91" class="b"/><text y="1780.5"><tspan x="288">gini = 0.0</tspan><tspan x="288" dy="20">samples = 3</tspan><tspan x="288" dy="20">value = [0, 3]</tspan><tspan x="288" dy="20">class = 1</tspan></text></g>
<g id="n24" class="n"><rect x="388" y="1759.5" width="150" height="91" class="o"/><text y="1780.5"><tspan x="463">gini = 0.0</tspan><tspan x="463" dy="20">samples = 1</tspan><tspan x="463" dy="20">value = [1, 0]</tspan><tspan x="463" dy="20">class = 0</tspan></text></g>
<g id="n37" class="n"><rect x="937" y="1759.5" width="150" height="91" class="b"/><text y="1780.5"><tspan x="1012">gini = 0.0</tspan><tspan x="1012" dy="20">samples = 1</tspan><tspan x="1012" dy="20">value = [0, 1]</tspan><tspan x="1012" dy="20">class = 1</tspan></text></g>
<g id="n38" class="n"><rect x="1112" y="1759.5" width="150" height="91" class="o"/><text y="1780.5"><tspan x="1187">gini = 0.0</tspan><tspan x="1187" dy="20">samples = 2</tspan><tspan x="1187" dy="20">value = [2, 0]</tspan><tspan x="1187" dy="20">class = 0</tspan></text></g>
<g id="n65" class="n"><rect x="1286" y="1759.5" width="151" height="91" class="b"/><text y="1780.5"><tspan x="1361.5">gini = 0.0</tspan><tspan x="1361.5" dy="20">samples = 3</tspan><tspan x="1361.5" dy="20">value = [0, 3]</tspan><tspan x="1361.5" dy="20">class = 1</tspan></text></g>
<g id="n66" class="n"><rect x="1460" y="1749.5" width="186" height="111" fill="#f2c09c"/><text y="1770.5"><tspan x="1553">pedigree ≤ 0.161</tspan><tspan x="1553" dy="20">gini = 0.444</tspan><tspan x="1553" dy="20">samples = 3</tspan><tspan x="1553" dy="20">value = [2, 1]</tspan><tspan x="1553" dy="20">class = 0</tspan></text></g>
<g id="n74" class="n"><rect x="1671" y="1749.5" width="173" height="111" fill="#f2c09c"/><text y="1770.5"><tspan x="1757.5">glucose ≤ 107.0</tspan><tspan x="1757.5" dy="20">gini = 0.444</tspan><tspan x="1757.5" dy="20">samples = 3</tspan><tspan x="1757.5" dy="20">value = [2, 1]</tspan><tspan x="1757.5" dy="20">class = 0</tspan></text></g>
<g id="n77" class="n"><rect x="1869" y="1759.5" width="150" height="91" class="b"/><text y="1780.5"><tspan x="1944">gini = 0.0</tspan><tspan x="1944" dy="20">samples = 3</tspan><tspan x="1944" dy="20">value = [0, 3]</tspan><tspan x="1944" dy="20">class = 1</tspan></text></g>
<g id="n83" class="n"><rect x="2046" y="1759.5" width="150" height="91" class="o"/><text y="1780.5"><tspan x="2121">gini = 0.0</tspan><tspan x="2121" dy="20">samples = 2</tspan><tspan x="2121" dy="20">value = [2, 0]</tspan><tspan x="2121" dy="20">class = 0</tspan></text></g>
<g id="n84" class="n"><rect x="2221" y="1759.5" width="149" height="91" class="b"/><text y="1780.5"><tspan x="2295.5">gini = 0.0</tspan><tspan x="2295.5" dy="20">samples = 2</tspan><tspan x="2295.5" dy="20">value = [0, 2]</tspan><tspan x="2295.5" dy="20">class = 1</tspan></text></g>
<g id="n117" class="n"><rect x="3425" y="1759.5" width="149" height="91" class="b"/><text y="1780.5"><tspan x="3499.5">gini = 0.0</tspan><tspan x="3499.5" dy="20">samples = 1</tspan><tspan x="3499.5" dy="20">value = [0, 1]</tspan><tspan x="3499.5" dy="20">class = 1</tspan></text></g>
<g id="n118" class="n"><rect x="3600" y="1759.5" width="149" height="91" class="o"/><text y="1780.5"><tspan x="3674.5">gini = 0.0</tspan><tspan x="3674.5" dy="20">samples = 1</tspan><tspan x="3674.5" dy="20">value = [1, 0]</tspan><tspan x="3674.5" dy="20">class = 0</tspan></text></g>
<g id="n166" class="n"><rect x="4255" y="1759.5" width="150" height="91" class="o"/><text y="1780.5"><tspan x="4330">gini = 0.0</tspan><tspan x="4330" dy="20">samples = 1</tspan><tspan x="4330" dy="20">value = [1, 0]</tspan><tspan x="4330" dy="20">class = 0</tspan></text></g>
<g id="n167" class="n"><rect x="4430" y="1759.5" width="149" height="91" class="b"/><text y="1780.5"><tspan x="4504.5">gini = 0.0</tspan><tspan x="4504.5" dy="20">samples = 1</tspan><tspan x="4504.5" dy="20">value = [0, 1]</tspan><tspan x="4504.5" dy="20">class = 1</tspan></text></g>
<g id="n67" class="n"><rect x="1311" y="1909" width="151" height="91" class="b"/><text y="1930"><tspan x="1386.5">gini = 0.0</tspan><tspan x="1386.5" dy="20">samples = 1</tspan><tspan x="1386.5" dy="20">value = [0, 1]</tspan><tspan x="1386.5" dy="20">class = 1</tspan></text></g>
<g id="n68" class="n"><rect x="1486" y="1909" width="151" height="91" class="o"/><text y="1930"><tspan x="1561.5">gini = 0.0</tspan><tspan x="1561.5" dy="20">samples = 2</tspan><tspan x="1561.5" dy="20">value = [2, 0]</tspan><tspan x="1561.5" dy="20">class = 0</tspan></text></g>
<g id="n75" class="n"><rect x="1675" y="1909" width="150" height="91" class="o"/><text y="1930"><tspan x="1750">gini = 0.0</tspan><tspan x="1750" dy="20">samples = 2</tspan><tspan x="1750" dy="20">value = [2, 0]</tspan><tspan x="1750" dy="20">class = 0</tspan></text></g>
<g id="n76" class="n"><rect x="1850" y="1909" width="150" height="91" class="b"/><text y="1930"><tspan x="1925">gini = 0.0</tspan><tspan x="1925" dy="20">samples = 1</tspan><tspan x="1925" dy="20">value = [0, 1]</tspan><tspan x="1925" dy="20">class = 1</tspan></text></g>
</svg>
